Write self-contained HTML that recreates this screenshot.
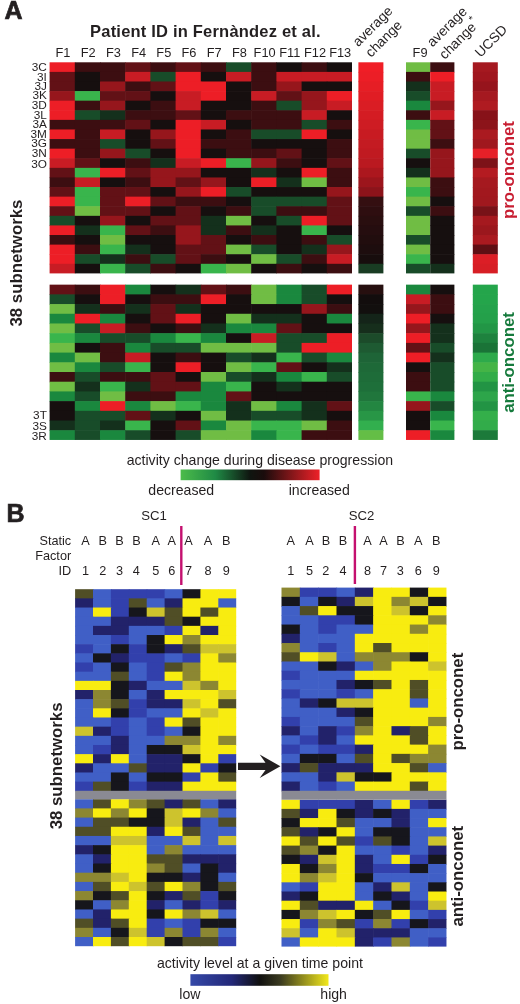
<!DOCTYPE html>
<html><head><meta charset="utf-8"><title>Figure</title>
<style>
html,body{margin:0;padding:0;background:#fff;}
body{width:520px;height:1004px;overflow:hidden;font-family:"Liberation Sans", sans-serif;}
svg{display:block;filter:blur(0.45px);}
svg text{font-family:"Liberation Sans", sans-serif;}
</style></head><body>
<svg width="520" height="1004" viewBox="0 0 520 1004" font-family='&quot;Liberation Sans&quot;, sans-serif'>
<rect x="49.60" y="62.30" width="25.80" height="10.20" fill="#ed1e26"/>
<rect x="74.80" y="62.30" width="25.80" height="10.20" fill="#3c0e11"/>
<rect x="100.00" y="62.30" width="25.80" height="10.20" fill="#3c0e11"/>
<rect x="125.20" y="62.30" width="25.80" height="10.20" fill="#621116"/>
<rect x="150.40" y="62.30" width="25.80" height="10.20" fill="#3c0e11"/>
<rect x="175.60" y="62.30" width="25.80" height="10.20" fill="#621116"/>
<rect x="200.80" y="62.30" width="25.80" height="10.20" fill="#3c0e11"/>
<rect x="226.00" y="62.30" width="25.80" height="10.20" fill="#184c29"/>
<rect x="251.20" y="62.30" width="25.80" height="10.20" fill="#3c0e11"/>
<rect x="276.40" y="62.30" width="25.80" height="10.20" fill="#160f0f"/>
<rect x="301.60" y="62.30" width="25.80" height="10.20" fill="#3c0e11"/>
<rect x="326.80" y="62.30" width="25.20" height="10.20" fill="#160f0f"/>
<rect x="49.60" y="71.90" width="25.80" height="10.20" fill="#621116"/>
<rect x="74.80" y="71.90" width="25.80" height="10.20" fill="#160f0f"/>
<rect x="100.00" y="71.90" width="25.80" height="10.20" fill="#3c0e11"/>
<rect x="125.20" y="71.90" width="25.80" height="10.20" fill="#c81c24"/>
<rect x="150.40" y="71.90" width="25.80" height="10.20" fill="#184c29"/>
<rect x="175.60" y="71.90" width="25.80" height="10.20" fill="#ed1e26"/>
<rect x="200.80" y="71.90" width="25.80" height="10.20" fill="#160f0f"/>
<rect x="226.00" y="71.90" width="25.80" height="10.20" fill="#c81c24"/>
<rect x="251.20" y="71.90" width="25.80" height="10.20" fill="#3c0e11"/>
<rect x="276.40" y="71.90" width="25.80" height="10.20" fill="#c81c24"/>
<rect x="301.60" y="71.90" width="25.80" height="10.20" fill="#c81c24"/>
<rect x="326.80" y="71.90" width="25.20" height="10.20" fill="#c81c24"/>
<rect x="49.60" y="81.49" width="25.80" height="10.20" fill="#621116"/>
<rect x="74.80" y="81.49" width="25.80" height="10.20" fill="#160f0f"/>
<rect x="100.00" y="81.49" width="25.80" height="10.20" fill="#96161c"/>
<rect x="125.20" y="81.49" width="25.80" height="10.20" fill="#3c0e11"/>
<rect x="150.40" y="81.49" width="25.80" height="10.20" fill="#621116"/>
<rect x="175.60" y="81.49" width="25.80" height="10.20" fill="#ed1e26"/>
<rect x="200.80" y="81.49" width="25.80" height="10.20" fill="#ed1e26"/>
<rect x="226.00" y="81.49" width="25.80" height="10.20" fill="#160f0f"/>
<rect x="251.20" y="81.49" width="25.80" height="10.20" fill="#3c0e11"/>
<rect x="276.40" y="81.49" width="25.80" height="10.20" fill="#96161c"/>
<rect x="301.60" y="81.49" width="25.80" height="10.20" fill="#160f0f"/>
<rect x="326.80" y="81.49" width="25.20" height="10.20" fill="#160f0f"/>
<rect x="49.60" y="91.09" width="25.80" height="10.20" fill="#96161c"/>
<rect x="74.80" y="91.09" width="25.80" height="10.20" fill="#39b54c"/>
<rect x="100.00" y="91.09" width="25.80" height="10.20" fill="#621116"/>
<rect x="125.20" y="91.09" width="25.80" height="10.20" fill="#621116"/>
<rect x="150.40" y="91.09" width="25.80" height="10.20" fill="#160f0f"/>
<rect x="175.60" y="91.09" width="25.80" height="10.20" fill="#c81c24"/>
<rect x="200.80" y="91.09" width="25.80" height="10.20" fill="#ed1e26"/>
<rect x="226.00" y="91.09" width="25.80" height="10.20" fill="#160f0f"/>
<rect x="251.20" y="91.09" width="25.80" height="10.20" fill="#c81c24"/>
<rect x="276.40" y="91.09" width="25.80" height="10.20" fill="#621116"/>
<rect x="301.60" y="91.09" width="25.80" height="10.20" fill="#96161c"/>
<rect x="326.80" y="91.09" width="25.20" height="10.20" fill="#ed1e26"/>
<rect x="49.60" y="100.68" width="25.80" height="10.20" fill="#ed1e26"/>
<rect x="74.80" y="100.68" width="25.80" height="10.20" fill="#3c0e11"/>
<rect x="100.00" y="100.68" width="25.80" height="10.20" fill="#96161c"/>
<rect x="125.20" y="100.68" width="25.80" height="10.20" fill="#160f0f"/>
<rect x="150.40" y="100.68" width="25.80" height="10.20" fill="#3c0e11"/>
<rect x="175.60" y="100.68" width="25.80" height="10.20" fill="#c81c24"/>
<rect x="200.80" y="100.68" width="25.80" height="10.20" fill="#160f0f"/>
<rect x="226.00" y="100.68" width="25.80" height="10.20" fill="#160f0f"/>
<rect x="251.20" y="100.68" width="25.80" height="10.20" fill="#3c0e11"/>
<rect x="276.40" y="100.68" width="25.80" height="10.20" fill="#184c29"/>
<rect x="301.60" y="100.68" width="25.80" height="10.20" fill="#96161c"/>
<rect x="326.80" y="100.68" width="25.20" height="10.20" fill="#c81c24"/>
<rect x="49.60" y="110.28" width="25.80" height="10.20" fill="#ed1e26"/>
<rect x="74.80" y="110.28" width="25.80" height="10.20" fill="#184c29"/>
<rect x="100.00" y="110.28" width="25.80" height="10.20" fill="#14301c"/>
<rect x="125.20" y="110.28" width="25.80" height="10.20" fill="#3c0e11"/>
<rect x="150.40" y="110.28" width="25.80" height="10.20" fill="#3c0e11"/>
<rect x="175.60" y="110.28" width="25.80" height="10.20" fill="#621116"/>
<rect x="200.80" y="110.28" width="25.80" height="10.20" fill="#160f0f"/>
<rect x="226.00" y="110.28" width="25.80" height="10.20" fill="#3c0e11"/>
<rect x="251.20" y="110.28" width="25.80" height="10.20" fill="#3c0e11"/>
<rect x="276.40" y="110.28" width="25.80" height="10.20" fill="#3c0e11"/>
<rect x="301.60" y="110.28" width="25.80" height="10.20" fill="#c81c24"/>
<rect x="326.80" y="110.28" width="25.20" height="10.20" fill="#160f0f"/>
<rect x="49.60" y="119.87" width="25.80" height="10.20" fill="#3c0e11"/>
<rect x="74.80" y="119.87" width="25.80" height="10.20" fill="#3c0e11"/>
<rect x="100.00" y="119.87" width="25.80" height="10.20" fill="#3c0e11"/>
<rect x="125.20" y="119.87" width="25.80" height="10.20" fill="#621116"/>
<rect x="150.40" y="119.87" width="25.80" height="10.20" fill="#160f0f"/>
<rect x="175.60" y="119.87" width="25.80" height="10.20" fill="#ed1e26"/>
<rect x="200.80" y="119.87" width="25.80" height="10.20" fill="#c81c24"/>
<rect x="226.00" y="119.87" width="25.80" height="10.20" fill="#160f0f"/>
<rect x="251.20" y="119.87" width="25.80" height="10.20" fill="#3c0e11"/>
<rect x="276.40" y="119.87" width="25.80" height="10.20" fill="#3c0e11"/>
<rect x="301.60" y="119.87" width="25.80" height="10.20" fill="#184c29"/>
<rect x="326.80" y="119.87" width="25.20" height="10.20" fill="#3c0e11"/>
<rect x="49.60" y="129.47" width="25.80" height="10.20" fill="#ed1e26"/>
<rect x="74.80" y="129.47" width="25.80" height="10.20" fill="#3c0e11"/>
<rect x="100.00" y="129.47" width="25.80" height="10.20" fill="#c81c24"/>
<rect x="125.20" y="129.47" width="25.80" height="10.20" fill="#160f0f"/>
<rect x="150.40" y="129.47" width="25.80" height="10.20" fill="#96161c"/>
<rect x="175.60" y="129.47" width="25.80" height="10.20" fill="#ed1e26"/>
<rect x="200.80" y="129.47" width="25.80" height="10.20" fill="#160f0f"/>
<rect x="226.00" y="129.47" width="25.80" height="10.20" fill="#3c0e11"/>
<rect x="251.20" y="129.47" width="25.80" height="10.20" fill="#184c29"/>
<rect x="276.40" y="129.47" width="25.80" height="10.20" fill="#184c29"/>
<rect x="301.60" y="129.47" width="25.80" height="10.20" fill="#ed1e26"/>
<rect x="326.80" y="129.47" width="25.20" height="10.20" fill="#160f0f"/>
<rect x="49.60" y="139.06" width="25.80" height="10.20" fill="#3c0e11"/>
<rect x="74.80" y="139.06" width="25.80" height="10.20" fill="#3c0e11"/>
<rect x="100.00" y="139.06" width="25.80" height="10.20" fill="#184c29"/>
<rect x="125.20" y="139.06" width="25.80" height="10.20" fill="#160f0f"/>
<rect x="150.40" y="139.06" width="25.80" height="10.20" fill="#621116"/>
<rect x="175.60" y="139.06" width="25.80" height="10.20" fill="#ed1e26"/>
<rect x="200.80" y="139.06" width="25.80" height="10.20" fill="#3c0e11"/>
<rect x="226.00" y="139.06" width="25.80" height="10.20" fill="#3c0e11"/>
<rect x="251.20" y="139.06" width="25.80" height="10.20" fill="#160f0f"/>
<rect x="276.40" y="139.06" width="25.80" height="10.20" fill="#160f0f"/>
<rect x="301.60" y="139.06" width="25.80" height="10.20" fill="#160f0f"/>
<rect x="326.80" y="139.06" width="25.20" height="10.20" fill="#3c0e11"/>
<rect x="49.60" y="148.66" width="25.80" height="10.20" fill="#ed1e26"/>
<rect x="74.80" y="148.66" width="25.80" height="10.20" fill="#3c0e11"/>
<rect x="100.00" y="148.66" width="25.80" height="10.20" fill="#96161c"/>
<rect x="125.20" y="148.66" width="25.80" height="10.20" fill="#184c29"/>
<rect x="150.40" y="148.66" width="25.80" height="10.20" fill="#160f0f"/>
<rect x="175.60" y="148.66" width="25.80" height="10.20" fill="#ed1e26"/>
<rect x="200.80" y="148.66" width="25.80" height="10.20" fill="#160f0f"/>
<rect x="226.00" y="148.66" width="25.80" height="10.20" fill="#3c0e11"/>
<rect x="251.20" y="148.66" width="25.80" height="10.20" fill="#3c0e11"/>
<rect x="276.40" y="148.66" width="25.80" height="10.20" fill="#621116"/>
<rect x="301.60" y="148.66" width="25.80" height="10.20" fill="#160f0f"/>
<rect x="326.80" y="148.66" width="25.20" height="10.20" fill="#3c0e11"/>
<rect x="49.60" y="158.25" width="25.80" height="10.20" fill="#c81c24"/>
<rect x="74.80" y="158.25" width="25.80" height="10.20" fill="#621116"/>
<rect x="100.00" y="158.25" width="25.80" height="10.20" fill="#160f0f"/>
<rect x="125.20" y="158.25" width="25.80" height="10.20" fill="#3c0e11"/>
<rect x="150.40" y="158.25" width="25.80" height="10.20" fill="#14301c"/>
<rect x="175.60" y="158.25" width="25.80" height="10.20" fill="#c81c24"/>
<rect x="200.80" y="158.25" width="25.80" height="10.20" fill="#ed1e26"/>
<rect x="226.00" y="158.25" width="25.80" height="10.20" fill="#39b54c"/>
<rect x="251.20" y="158.25" width="25.80" height="10.20" fill="#96161c"/>
<rect x="276.40" y="158.25" width="25.80" height="10.20" fill="#3c0e11"/>
<rect x="301.60" y="158.25" width="25.80" height="10.20" fill="#160f0f"/>
<rect x="326.80" y="158.25" width="25.20" height="10.20" fill="#621116"/>
<rect x="49.60" y="167.85" width="25.80" height="10.20" fill="#621116"/>
<rect x="74.80" y="167.85" width="25.80" height="10.20" fill="#39b54c"/>
<rect x="100.00" y="167.85" width="25.80" height="10.20" fill="#ed1e26"/>
<rect x="125.20" y="167.85" width="25.80" height="10.20" fill="#621116"/>
<rect x="150.40" y="167.85" width="25.80" height="10.20" fill="#96161c"/>
<rect x="175.60" y="167.85" width="25.80" height="10.20" fill="#96161c"/>
<rect x="200.80" y="167.85" width="25.80" height="10.20" fill="#160f0f"/>
<rect x="226.00" y="167.85" width="25.80" height="10.20" fill="#160f0f"/>
<rect x="251.20" y="167.85" width="25.80" height="10.20" fill="#14301c"/>
<rect x="276.40" y="167.85" width="25.80" height="10.20" fill="#160f0f"/>
<rect x="301.60" y="167.85" width="25.80" height="10.20" fill="#ed1e26"/>
<rect x="326.80" y="167.85" width="25.20" height="10.20" fill="#3c0e11"/>
<rect x="49.60" y="177.45" width="25.80" height="10.20" fill="#3c0e11"/>
<rect x="74.80" y="177.45" width="25.80" height="10.20" fill="#c81c24"/>
<rect x="100.00" y="177.45" width="25.80" height="10.20" fill="#160f0f"/>
<rect x="125.20" y="177.45" width="25.80" height="10.20" fill="#3c0e11"/>
<rect x="150.40" y="177.45" width="25.80" height="10.20" fill="#96161c"/>
<rect x="175.60" y="177.45" width="25.80" height="10.20" fill="#621116"/>
<rect x="200.80" y="177.45" width="25.80" height="10.20" fill="#96161c"/>
<rect x="226.00" y="177.45" width="25.80" height="10.20" fill="#160f0f"/>
<rect x="251.20" y="177.45" width="25.80" height="10.20" fill="#ed1e26"/>
<rect x="276.40" y="177.45" width="25.80" height="10.20" fill="#14301c"/>
<rect x="301.60" y="177.45" width="25.80" height="10.20" fill="#70bd44"/>
<rect x="326.80" y="177.45" width="25.20" height="10.20" fill="#3c0e11"/>
<rect x="49.60" y="187.04" width="25.80" height="10.20" fill="#621116"/>
<rect x="74.80" y="187.04" width="25.80" height="10.20" fill="#39b54c"/>
<rect x="100.00" y="187.04" width="25.80" height="10.20" fill="#621116"/>
<rect x="125.20" y="187.04" width="25.80" height="10.20" fill="#621116"/>
<rect x="150.40" y="187.04" width="25.80" height="10.20" fill="#160f0f"/>
<rect x="175.60" y="187.04" width="25.80" height="10.20" fill="#96161c"/>
<rect x="200.80" y="187.04" width="25.80" height="10.20" fill="#ed1e26"/>
<rect x="226.00" y="187.04" width="25.80" height="10.20" fill="#184c29"/>
<rect x="251.20" y="187.04" width="25.80" height="10.20" fill="#160f0f"/>
<rect x="276.40" y="187.04" width="25.80" height="10.20" fill="#160f0f"/>
<rect x="301.60" y="187.04" width="25.80" height="10.20" fill="#160f0f"/>
<rect x="326.80" y="187.04" width="25.20" height="10.20" fill="#96161c"/>
<rect x="49.60" y="196.64" width="25.80" height="10.20" fill="#ed1e26"/>
<rect x="74.80" y="196.64" width="25.80" height="10.20" fill="#39b54c"/>
<rect x="100.00" y="196.64" width="25.80" height="10.20" fill="#621116"/>
<rect x="125.20" y="196.64" width="25.80" height="10.20" fill="#ed1e26"/>
<rect x="150.40" y="196.64" width="25.80" height="10.20" fill="#621116"/>
<rect x="175.60" y="196.64" width="25.80" height="10.20" fill="#3c0e11"/>
<rect x="200.80" y="196.64" width="25.80" height="10.20" fill="#3c0e11"/>
<rect x="226.00" y="196.64" width="25.80" height="10.20" fill="#160f0f"/>
<rect x="251.20" y="196.64" width="25.80" height="10.20" fill="#184c29"/>
<rect x="276.40" y="196.64" width="25.80" height="10.20" fill="#184c29"/>
<rect x="301.60" y="196.64" width="25.80" height="10.20" fill="#184c29"/>
<rect x="326.80" y="196.64" width="25.20" height="10.20" fill="#621116"/>
<rect x="49.60" y="206.23" width="25.80" height="10.20" fill="#621116"/>
<rect x="74.80" y="206.23" width="25.80" height="10.20" fill="#70bd44"/>
<rect x="100.00" y="206.23" width="25.80" height="10.20" fill="#621116"/>
<rect x="125.20" y="206.23" width="25.80" height="10.20" fill="#621116"/>
<rect x="150.40" y="206.23" width="25.80" height="10.20" fill="#160f0f"/>
<rect x="175.60" y="206.23" width="25.80" height="10.20" fill="#621116"/>
<rect x="200.80" y="206.23" width="25.80" height="10.20" fill="#160f0f"/>
<rect x="226.00" y="206.23" width="25.80" height="10.20" fill="#3c0e11"/>
<rect x="251.20" y="206.23" width="25.80" height="10.20" fill="#184c29"/>
<rect x="276.40" y="206.23" width="25.80" height="10.20" fill="#3c0e11"/>
<rect x="301.60" y="206.23" width="25.80" height="10.20" fill="#3c0e11"/>
<rect x="326.80" y="206.23" width="25.20" height="10.20" fill="#621116"/>
<rect x="49.60" y="215.83" width="25.80" height="10.20" fill="#184c29"/>
<rect x="74.80" y="215.83" width="25.80" height="10.20" fill="#160f0f"/>
<rect x="100.00" y="215.83" width="25.80" height="10.20" fill="#96161c"/>
<rect x="125.20" y="215.83" width="25.80" height="10.20" fill="#160f0f"/>
<rect x="150.40" y="215.83" width="25.80" height="10.20" fill="#621116"/>
<rect x="175.60" y="215.83" width="25.80" height="10.20" fill="#621116"/>
<rect x="200.80" y="215.83" width="25.80" height="10.20" fill="#14301c"/>
<rect x="226.00" y="215.83" width="25.80" height="10.20" fill="#70bd44"/>
<rect x="251.20" y="215.83" width="25.80" height="10.20" fill="#160f0f"/>
<rect x="276.40" y="215.83" width="25.80" height="10.20" fill="#184c29"/>
<rect x="301.60" y="215.83" width="25.80" height="10.20" fill="#ed1e26"/>
<rect x="326.80" y="215.83" width="25.20" height="10.20" fill="#621116"/>
<rect x="49.60" y="225.42" width="25.80" height="10.20" fill="#ed1e26"/>
<rect x="74.80" y="225.42" width="25.80" height="10.20" fill="#14301c"/>
<rect x="100.00" y="225.42" width="25.80" height="10.20" fill="#39b54c"/>
<rect x="125.20" y="225.42" width="25.80" height="10.20" fill="#621116"/>
<rect x="150.40" y="225.42" width="25.80" height="10.20" fill="#3c0e11"/>
<rect x="175.60" y="225.42" width="25.80" height="10.20" fill="#96161c"/>
<rect x="200.80" y="225.42" width="25.80" height="10.20" fill="#14301c"/>
<rect x="226.00" y="225.42" width="25.80" height="10.20" fill="#3c0e11"/>
<rect x="251.20" y="225.42" width="25.80" height="10.20" fill="#14301c"/>
<rect x="276.40" y="225.42" width="25.80" height="10.20" fill="#160f0f"/>
<rect x="301.60" y="225.42" width="25.80" height="10.20" fill="#39b54c"/>
<rect x="326.80" y="225.42" width="25.20" height="10.20" fill="#160f0f"/>
<rect x="49.60" y="235.02" width="25.80" height="10.20" fill="#3c0e11"/>
<rect x="74.80" y="235.02" width="25.80" height="10.20" fill="#160f0f"/>
<rect x="100.00" y="235.02" width="25.80" height="10.20" fill="#70bd44"/>
<rect x="125.20" y="235.02" width="25.80" height="10.20" fill="#160f0f"/>
<rect x="150.40" y="235.02" width="25.80" height="10.20" fill="#160f0f"/>
<rect x="175.60" y="235.02" width="25.80" height="10.20" fill="#96161c"/>
<rect x="200.80" y="235.02" width="25.80" height="10.20" fill="#621116"/>
<rect x="226.00" y="235.02" width="25.80" height="10.20" fill="#160f0f"/>
<rect x="251.20" y="235.02" width="25.80" height="10.20" fill="#3c0e11"/>
<rect x="276.40" y="235.02" width="25.80" height="10.20" fill="#160f0f"/>
<rect x="301.60" y="235.02" width="25.80" height="10.20" fill="#3c0e11"/>
<rect x="326.80" y="235.02" width="25.20" height="10.20" fill="#184c29"/>
<rect x="49.60" y="244.61" width="25.80" height="10.20" fill="#ed1e26"/>
<rect x="74.80" y="244.61" width="25.80" height="10.20" fill="#3c0e11"/>
<rect x="100.00" y="244.61" width="25.80" height="10.20" fill="#39b54c"/>
<rect x="125.20" y="244.61" width="25.80" height="10.20" fill="#14301c"/>
<rect x="150.40" y="244.61" width="25.80" height="10.20" fill="#160f0f"/>
<rect x="175.60" y="244.61" width="25.80" height="10.20" fill="#621116"/>
<rect x="200.80" y="244.61" width="25.80" height="10.20" fill="#621116"/>
<rect x="226.00" y="244.61" width="25.80" height="10.20" fill="#70bd44"/>
<rect x="251.20" y="244.61" width="25.80" height="10.20" fill="#184c29"/>
<rect x="276.40" y="244.61" width="25.80" height="10.20" fill="#160f0f"/>
<rect x="301.60" y="244.61" width="25.80" height="10.20" fill="#14301c"/>
<rect x="326.80" y="244.61" width="25.20" height="10.20" fill="#96161c"/>
<rect x="49.60" y="254.21" width="25.80" height="10.20" fill="#ed1e26"/>
<rect x="74.80" y="254.21" width="25.80" height="10.20" fill="#184c29"/>
<rect x="100.00" y="254.21" width="25.80" height="10.20" fill="#14301c"/>
<rect x="125.20" y="254.21" width="25.80" height="10.20" fill="#3c0e11"/>
<rect x="150.40" y="254.21" width="25.80" height="10.20" fill="#184c29"/>
<rect x="175.60" y="254.21" width="25.80" height="10.20" fill="#621116"/>
<rect x="200.80" y="254.21" width="25.80" height="10.20" fill="#3c0e11"/>
<rect x="226.00" y="254.21" width="25.80" height="10.20" fill="#160f0f"/>
<rect x="251.20" y="254.21" width="25.80" height="10.20" fill="#70bd44"/>
<rect x="276.40" y="254.21" width="25.80" height="10.20" fill="#184c29"/>
<rect x="301.60" y="254.21" width="25.80" height="10.20" fill="#3c0e11"/>
<rect x="326.80" y="254.21" width="25.20" height="10.20" fill="#c81c24"/>
<rect x="49.60" y="263.80" width="25.80" height="9.60" fill="#c81c24"/>
<rect x="74.80" y="263.80" width="25.80" height="9.60" fill="#160f0f"/>
<rect x="100.00" y="263.80" width="25.80" height="9.60" fill="#39b54c"/>
<rect x="125.20" y="263.80" width="25.80" height="9.60" fill="#184c29"/>
<rect x="150.40" y="263.80" width="25.80" height="9.60" fill="#3c0e11"/>
<rect x="175.60" y="263.80" width="25.80" height="9.60" fill="#160f0f"/>
<rect x="200.80" y="263.80" width="25.80" height="9.60" fill="#39b54c"/>
<rect x="226.00" y="263.80" width="25.80" height="9.60" fill="#70bd44"/>
<rect x="251.20" y="263.80" width="25.80" height="9.60" fill="#160f0f"/>
<rect x="276.40" y="263.80" width="25.80" height="9.60" fill="#3c0e11"/>
<rect x="301.60" y="263.80" width="25.80" height="9.60" fill="#160f0f"/>
<rect x="326.80" y="263.80" width="25.20" height="9.60" fill="#3c0e11"/>
<rect x="49.60" y="284.65" width="25.80" height="10.31" fill="#621116"/>
<rect x="74.80" y="284.65" width="25.80" height="10.31" fill="#3c0e11"/>
<rect x="100.00" y="284.65" width="25.80" height="10.31" fill="#ed1e26"/>
<rect x="125.20" y="284.65" width="25.80" height="10.31" fill="#1a883e"/>
<rect x="150.40" y="284.65" width="25.80" height="10.31" fill="#160f0f"/>
<rect x="175.60" y="284.65" width="25.80" height="10.31" fill="#14301c"/>
<rect x="200.80" y="284.65" width="25.80" height="10.31" fill="#621116"/>
<rect x="226.00" y="284.65" width="25.80" height="10.31" fill="#3c0e11"/>
<rect x="251.20" y="284.65" width="25.80" height="10.31" fill="#70bd44"/>
<rect x="276.40" y="284.65" width="25.80" height="10.31" fill="#1a883e"/>
<rect x="301.60" y="284.65" width="25.80" height="10.31" fill="#184c29"/>
<rect x="326.80" y="284.65" width="25.20" height="10.31" fill="#ed1e26"/>
<rect x="49.60" y="294.36" width="25.80" height="10.31" fill="#184c29"/>
<rect x="74.80" y="294.36" width="25.80" height="10.31" fill="#160f0f"/>
<rect x="100.00" y="294.36" width="25.80" height="10.31" fill="#ed1e26"/>
<rect x="125.20" y="294.36" width="25.80" height="10.31" fill="#160f0f"/>
<rect x="150.40" y="294.36" width="25.80" height="10.31" fill="#3c0e11"/>
<rect x="175.60" y="294.36" width="25.80" height="10.31" fill="#3c0e11"/>
<rect x="200.80" y="294.36" width="25.80" height="10.31" fill="#ed1e26"/>
<rect x="226.00" y="294.36" width="25.80" height="10.31" fill="#160f0f"/>
<rect x="251.20" y="294.36" width="25.80" height="10.31" fill="#70bd44"/>
<rect x="276.40" y="294.36" width="25.80" height="10.31" fill="#1a883e"/>
<rect x="301.60" y="294.36" width="25.80" height="10.31" fill="#184c29"/>
<rect x="326.80" y="294.36" width="25.20" height="10.31" fill="#160f0f"/>
<rect x="49.60" y="304.06" width="25.80" height="10.31" fill="#70bd44"/>
<rect x="74.80" y="304.06" width="25.80" height="10.31" fill="#14301c"/>
<rect x="100.00" y="304.06" width="25.80" height="10.31" fill="#3c0e11"/>
<rect x="125.20" y="304.06" width="25.80" height="10.31" fill="#14301c"/>
<rect x="150.40" y="304.06" width="25.80" height="10.31" fill="#621116"/>
<rect x="175.60" y="304.06" width="25.80" height="10.31" fill="#14301c"/>
<rect x="200.80" y="304.06" width="25.80" height="10.31" fill="#160f0f"/>
<rect x="226.00" y="304.06" width="25.80" height="10.31" fill="#160f0f"/>
<rect x="251.20" y="304.06" width="25.80" height="10.31" fill="#160f0f"/>
<rect x="276.40" y="304.06" width="25.80" height="10.31" fill="#160f0f"/>
<rect x="301.60" y="304.06" width="25.80" height="10.31" fill="#96161c"/>
<rect x="326.80" y="304.06" width="25.20" height="10.31" fill="#3c0e11"/>
<rect x="49.60" y="313.77" width="25.80" height="10.31" fill="#1a883e"/>
<rect x="74.80" y="313.77" width="25.80" height="10.31" fill="#ed1e26"/>
<rect x="100.00" y="313.77" width="25.80" height="10.31" fill="#1a883e"/>
<rect x="125.20" y="313.77" width="25.80" height="10.31" fill="#160f0f"/>
<rect x="150.40" y="313.77" width="25.80" height="10.31" fill="#621116"/>
<rect x="175.60" y="313.77" width="25.80" height="10.31" fill="#ed1e26"/>
<rect x="200.80" y="313.77" width="25.80" height="10.31" fill="#160f0f"/>
<rect x="226.00" y="313.77" width="25.80" height="10.31" fill="#70bd44"/>
<rect x="251.20" y="313.77" width="25.80" height="10.31" fill="#14301c"/>
<rect x="276.40" y="313.77" width="25.80" height="10.31" fill="#14301c"/>
<rect x="301.60" y="313.77" width="25.80" height="10.31" fill="#160f0f"/>
<rect x="326.80" y="313.77" width="25.20" height="10.31" fill="#1a883e"/>
<rect x="49.60" y="323.47" width="25.80" height="10.31" fill="#70bd44"/>
<rect x="74.80" y="323.47" width="25.80" height="10.31" fill="#184c29"/>
<rect x="100.00" y="323.47" width="25.80" height="10.31" fill="#c81c24"/>
<rect x="125.20" y="323.47" width="25.80" height="10.31" fill="#3c0e11"/>
<rect x="150.40" y="323.47" width="25.80" height="10.31" fill="#160f0f"/>
<rect x="175.60" y="323.47" width="25.80" height="10.31" fill="#3c0e11"/>
<rect x="200.80" y="323.47" width="25.80" height="10.31" fill="#14301c"/>
<rect x="226.00" y="323.47" width="25.80" height="10.31" fill="#1a883e"/>
<rect x="251.20" y="323.47" width="25.80" height="10.31" fill="#1a883e"/>
<rect x="276.40" y="323.47" width="25.80" height="10.31" fill="#621116"/>
<rect x="301.60" y="323.47" width="25.80" height="10.31" fill="#160f0f"/>
<rect x="326.80" y="323.47" width="25.20" height="10.31" fill="#160f0f"/>
<rect x="49.60" y="333.18" width="25.80" height="10.31" fill="#39b54c"/>
<rect x="74.80" y="333.18" width="25.80" height="10.31" fill="#1a883e"/>
<rect x="100.00" y="333.18" width="25.80" height="10.31" fill="#184c29"/>
<rect x="125.20" y="333.18" width="25.80" height="10.31" fill="#184c29"/>
<rect x="150.40" y="333.18" width="25.80" height="10.31" fill="#1a883e"/>
<rect x="175.60" y="333.18" width="25.80" height="10.31" fill="#39b54c"/>
<rect x="200.80" y="333.18" width="25.80" height="10.31" fill="#1a883e"/>
<rect x="226.00" y="333.18" width="25.80" height="10.31" fill="#160f0f"/>
<rect x="251.20" y="333.18" width="25.80" height="10.31" fill="#c81c24"/>
<rect x="276.40" y="333.18" width="25.80" height="10.31" fill="#184c29"/>
<rect x="301.60" y="333.18" width="25.80" height="10.31" fill="#184c29"/>
<rect x="326.80" y="333.18" width="25.20" height="10.31" fill="#ed1e26"/>
<rect x="49.60" y="342.89" width="25.80" height="10.31" fill="#70bd44"/>
<rect x="74.80" y="342.89" width="25.80" height="10.31" fill="#160f0f"/>
<rect x="100.00" y="342.89" width="25.80" height="10.31" fill="#3c0e11"/>
<rect x="125.20" y="342.89" width="25.80" height="10.31" fill="#1a883e"/>
<rect x="150.40" y="342.89" width="25.80" height="10.31" fill="#184c29"/>
<rect x="175.60" y="342.89" width="25.80" height="10.31" fill="#184c29"/>
<rect x="200.80" y="342.89" width="25.80" height="10.31" fill="#70bd44"/>
<rect x="226.00" y="342.89" width="25.80" height="10.31" fill="#70bd44"/>
<rect x="251.20" y="342.89" width="25.80" height="10.31" fill="#70bd44"/>
<rect x="276.40" y="342.89" width="25.80" height="10.31" fill="#184c29"/>
<rect x="301.60" y="342.89" width="25.80" height="10.31" fill="#ed1e26"/>
<rect x="326.80" y="342.89" width="25.20" height="10.31" fill="#ed1e26"/>
<rect x="49.60" y="352.59" width="25.80" height="10.31" fill="#1a883e"/>
<rect x="74.80" y="352.59" width="25.80" height="10.31" fill="#70bd44"/>
<rect x="100.00" y="352.59" width="25.80" height="10.31" fill="#3c0e11"/>
<rect x="125.20" y="352.59" width="25.80" height="10.31" fill="#c81c24"/>
<rect x="150.40" y="352.59" width="25.80" height="10.31" fill="#160f0f"/>
<rect x="175.60" y="352.59" width="25.80" height="10.31" fill="#3c0e11"/>
<rect x="200.80" y="352.59" width="25.80" height="10.31" fill="#160f0f"/>
<rect x="226.00" y="352.59" width="25.80" height="10.31" fill="#184c29"/>
<rect x="251.20" y="352.59" width="25.80" height="10.31" fill="#14301c"/>
<rect x="276.40" y="352.59" width="25.80" height="10.31" fill="#39b54c"/>
<rect x="301.60" y="352.59" width="25.80" height="10.31" fill="#184c29"/>
<rect x="326.80" y="352.59" width="25.20" height="10.31" fill="#1a883e"/>
<rect x="49.60" y="362.30" width="25.80" height="10.31" fill="#70bd44"/>
<rect x="74.80" y="362.30" width="25.80" height="10.31" fill="#1a883e"/>
<rect x="100.00" y="362.30" width="25.80" height="10.31" fill="#184c29"/>
<rect x="125.20" y="362.30" width="25.80" height="10.31" fill="#39b54c"/>
<rect x="150.40" y="362.30" width="25.80" height="10.31" fill="#160f0f"/>
<rect x="175.60" y="362.30" width="25.80" height="10.31" fill="#ed1e26"/>
<rect x="200.80" y="362.30" width="25.80" height="10.31" fill="#160f0f"/>
<rect x="226.00" y="362.30" width="25.80" height="10.31" fill="#70bd44"/>
<rect x="251.20" y="362.30" width="25.80" height="10.31" fill="#39b54c"/>
<rect x="276.40" y="362.30" width="25.80" height="10.31" fill="#621116"/>
<rect x="301.60" y="362.30" width="25.80" height="10.31" fill="#160f0f"/>
<rect x="326.80" y="362.30" width="25.20" height="10.31" fill="#14301c"/>
<rect x="49.60" y="372.01" width="25.80" height="10.31" fill="#3c0e11"/>
<rect x="74.80" y="372.01" width="25.80" height="10.31" fill="#184c29"/>
<rect x="100.00" y="372.01" width="25.80" height="10.31" fill="#3c0e11"/>
<rect x="125.20" y="372.01" width="25.80" height="10.31" fill="#3c0e11"/>
<rect x="150.40" y="372.01" width="25.80" height="10.31" fill="#621116"/>
<rect x="175.60" y="372.01" width="25.80" height="10.31" fill="#160f0f"/>
<rect x="200.80" y="372.01" width="25.80" height="10.31" fill="#70bd44"/>
<rect x="226.00" y="372.01" width="25.80" height="10.31" fill="#184c29"/>
<rect x="251.20" y="372.01" width="25.80" height="10.31" fill="#14301c"/>
<rect x="276.40" y="372.01" width="25.80" height="10.31" fill="#1a883e"/>
<rect x="301.60" y="372.01" width="25.80" height="10.31" fill="#39b54c"/>
<rect x="326.80" y="372.01" width="25.20" height="10.31" fill="#184c29"/>
<rect x="49.60" y="381.71" width="25.80" height="10.31" fill="#70bd44"/>
<rect x="74.80" y="381.71" width="25.80" height="10.31" fill="#14301c"/>
<rect x="100.00" y="381.71" width="25.80" height="10.31" fill="#39b54c"/>
<rect x="125.20" y="381.71" width="25.80" height="10.31" fill="#14301c"/>
<rect x="150.40" y="381.71" width="25.80" height="10.31" fill="#621116"/>
<rect x="175.60" y="381.71" width="25.80" height="10.31" fill="#621116"/>
<rect x="200.80" y="381.71" width="25.80" height="10.31" fill="#1a883e"/>
<rect x="226.00" y="381.71" width="25.80" height="10.31" fill="#39b54c"/>
<rect x="251.20" y="381.71" width="25.80" height="10.31" fill="#160f0f"/>
<rect x="276.40" y="381.71" width="25.80" height="10.31" fill="#14301c"/>
<rect x="301.60" y="381.71" width="25.80" height="10.31" fill="#160f0f"/>
<rect x="326.80" y="381.71" width="25.20" height="10.31" fill="#160f0f"/>
<rect x="49.60" y="391.42" width="25.80" height="10.31" fill="#1a883e"/>
<rect x="74.80" y="391.42" width="25.80" height="10.31" fill="#184c29"/>
<rect x="100.00" y="391.42" width="25.80" height="10.31" fill="#70bd44"/>
<rect x="125.20" y="391.42" width="25.80" height="10.31" fill="#3c0e11"/>
<rect x="150.40" y="391.42" width="25.80" height="10.31" fill="#3c0e11"/>
<rect x="175.60" y="391.42" width="25.80" height="10.31" fill="#1a883e"/>
<rect x="200.80" y="391.42" width="25.80" height="10.31" fill="#1a883e"/>
<rect x="226.00" y="391.42" width="25.80" height="10.31" fill="#621116"/>
<rect x="251.20" y="391.42" width="25.80" height="10.31" fill="#160f0f"/>
<rect x="276.40" y="391.42" width="25.80" height="10.31" fill="#160f0f"/>
<rect x="301.60" y="391.42" width="25.80" height="10.31" fill="#160f0f"/>
<rect x="326.80" y="391.42" width="25.20" height="10.31" fill="#160f0f"/>
<rect x="49.60" y="401.12" width="25.80" height="10.31" fill="#160f0f"/>
<rect x="74.80" y="401.12" width="25.80" height="10.31" fill="#1a883e"/>
<rect x="100.00" y="401.12" width="25.80" height="10.31" fill="#ed1e26"/>
<rect x="125.20" y="401.12" width="25.80" height="10.31" fill="#1a883e"/>
<rect x="150.40" y="401.12" width="25.80" height="10.31" fill="#70bd44"/>
<rect x="175.60" y="401.12" width="25.80" height="10.31" fill="#39b54c"/>
<rect x="200.80" y="401.12" width="25.80" height="10.31" fill="#1a883e"/>
<rect x="226.00" y="401.12" width="25.80" height="10.31" fill="#14301c"/>
<rect x="251.20" y="401.12" width="25.80" height="10.31" fill="#70bd44"/>
<rect x="276.40" y="401.12" width="25.80" height="10.31" fill="#1a883e"/>
<rect x="301.60" y="401.12" width="25.80" height="10.31" fill="#14301c"/>
<rect x="326.80" y="401.12" width="25.20" height="10.31" fill="#621116"/>
<rect x="49.60" y="410.83" width="25.80" height="10.31" fill="#160f0f"/>
<rect x="74.80" y="410.83" width="25.80" height="10.31" fill="#184c29"/>
<rect x="100.00" y="410.83" width="25.80" height="10.31" fill="#184c29"/>
<rect x="125.20" y="410.83" width="25.80" height="10.31" fill="#621116"/>
<rect x="150.40" y="410.83" width="25.80" height="10.31" fill="#14301c"/>
<rect x="175.60" y="410.83" width="25.80" height="10.31" fill="#160f0f"/>
<rect x="200.80" y="410.83" width="25.80" height="10.31" fill="#70bd44"/>
<rect x="226.00" y="410.83" width="25.80" height="10.31" fill="#14301c"/>
<rect x="251.20" y="410.83" width="25.80" height="10.31" fill="#184c29"/>
<rect x="276.40" y="410.83" width="25.80" height="10.31" fill="#184c29"/>
<rect x="301.60" y="410.83" width="25.80" height="10.31" fill="#14301c"/>
<rect x="326.80" y="410.83" width="25.20" height="10.31" fill="#160f0f"/>
<rect x="49.60" y="420.54" width="25.80" height="10.31" fill="#14301c"/>
<rect x="74.80" y="420.54" width="25.80" height="10.31" fill="#184c29"/>
<rect x="100.00" y="420.54" width="25.80" height="10.31" fill="#14301c"/>
<rect x="125.20" y="420.54" width="25.80" height="10.31" fill="#39b54c"/>
<rect x="150.40" y="420.54" width="25.80" height="10.31" fill="#160f0f"/>
<rect x="175.60" y="420.54" width="25.80" height="10.31" fill="#621116"/>
<rect x="200.80" y="420.54" width="25.80" height="10.31" fill="#1a883e"/>
<rect x="226.00" y="420.54" width="25.80" height="10.31" fill="#70bd44"/>
<rect x="251.20" y="420.54" width="25.80" height="10.31" fill="#39b54c"/>
<rect x="276.40" y="420.54" width="25.80" height="10.31" fill="#39b54c"/>
<rect x="301.60" y="420.54" width="25.80" height="10.31" fill="#70bd44"/>
<rect x="326.80" y="420.54" width="25.20" height="10.31" fill="#3c0e11"/>
<rect x="49.60" y="430.24" width="25.80" height="9.71" fill="#1a883e"/>
<rect x="74.80" y="430.24" width="25.80" height="9.71" fill="#184c29"/>
<rect x="100.00" y="430.24" width="25.80" height="9.71" fill="#1a883e"/>
<rect x="125.20" y="430.24" width="25.80" height="9.71" fill="#184c29"/>
<rect x="150.40" y="430.24" width="25.80" height="9.71" fill="#160f0f"/>
<rect x="175.60" y="430.24" width="25.80" height="9.71" fill="#184c29"/>
<rect x="200.80" y="430.24" width="25.80" height="9.71" fill="#70bd44"/>
<rect x="226.00" y="430.24" width="25.80" height="9.71" fill="#70bd44"/>
<rect x="251.20" y="430.24" width="25.80" height="9.71" fill="#1a883e"/>
<rect x="276.40" y="430.24" width="25.80" height="9.71" fill="#39b54c"/>
<rect x="301.60" y="430.24" width="25.80" height="9.71" fill="#3c0e11"/>
<rect x="326.80" y="430.24" width="25.20" height="9.71" fill="#3c0e11"/>
<rect x="358.40" y="62.30" width="25.00" height="10.20" fill="#f01e26"/>
<rect x="358.40" y="71.90" width="25.00" height="10.20" fill="#ec1e26"/>
<rect x="358.40" y="81.49" width="25.00" height="10.20" fill="#e61e25"/>
<rect x="358.40" y="91.09" width="25.00" height="10.20" fill="#e01d24"/>
<rect x="358.40" y="100.68" width="25.00" height="10.20" fill="#da1d24"/>
<rect x="358.40" y="110.28" width="25.00" height="10.20" fill="#d41c23"/>
<rect x="358.40" y="119.87" width="25.00" height="10.20" fill="#ce1c23"/>
<rect x="358.40" y="129.47" width="25.00" height="10.20" fill="#c81b22"/>
<rect x="358.40" y="139.06" width="25.00" height="10.20" fill="#c41b22"/>
<rect x="358.40" y="148.66" width="25.00" height="10.20" fill="#c01a21"/>
<rect x="358.40" y="158.25" width="25.00" height="10.20" fill="#ba1920"/>
<rect x="358.40" y="167.85" width="25.00" height="10.20" fill="#ac171e"/>
<rect x="358.40" y="177.45" width="25.00" height="10.20" fill="#9c151c"/>
<rect x="358.40" y="187.04" width="25.00" height="10.20" fill="#8c131a"/>
<rect x="358.40" y="196.64" width="25.00" height="10.20" fill="#340f11"/>
<rect x="358.40" y="206.23" width="25.00" height="10.20" fill="#2e0e10"/>
<rect x="358.40" y="215.83" width="25.00" height="10.20" fill="#290e0f"/>
<rect x="358.40" y="225.42" width="25.00" height="10.20" fill="#250d0f"/>
<rect x="358.40" y="235.02" width="25.00" height="10.20" fill="#210d0e"/>
<rect x="358.40" y="244.61" width="25.00" height="10.20" fill="#1d0d0e"/>
<rect x="358.40" y="254.21" width="25.00" height="10.20" fill="#170d0d"/>
<rect x="358.40" y="263.80" width="25.00" height="9.60" fill="#193c23"/>
<rect x="358.40" y="284.65" width="25.00" height="10.31" fill="#260f0f"/>
<rect x="358.40" y="294.36" width="25.00" height="10.31" fill="#120d0d"/>
<rect x="358.40" y="304.06" width="25.00" height="10.31" fill="#120f0e"/>
<rect x="358.40" y="313.77" width="25.00" height="10.31" fill="#142419"/>
<rect x="358.40" y="323.47" width="25.00" height="10.31" fill="#162e1c"/>
<rect x="358.40" y="333.18" width="25.00" height="10.31" fill="#1c4b2a"/>
<rect x="358.40" y="342.89" width="25.00" height="10.31" fill="#1e5a32"/>
<rect x="358.40" y="352.59" width="25.00" height="10.31" fill="#1e6437"/>
<rect x="358.40" y="362.30" width="25.00" height="10.31" fill="#1e6938"/>
<rect x="358.40" y="372.01" width="25.00" height="10.31" fill="#1e6c39"/>
<rect x="358.40" y="381.71" width="25.00" height="10.31" fill="#1e6f3a"/>
<rect x="358.40" y="391.42" width="25.00" height="10.31" fill="#20763c"/>
<rect x="358.40" y="401.12" width="25.00" height="10.31" fill="#238641"/>
<rect x="358.40" y="410.83" width="25.00" height="10.31" fill="#289646"/>
<rect x="358.40" y="420.54" width="25.00" height="10.31" fill="#32af4e"/>
<rect x="358.40" y="430.24" width="25.00" height="9.71" fill="#64be46"/>
<rect x="406.00" y="62.30" width="24.20" height="10.20" fill="#70bd44"/>
<rect x="406.00" y="71.90" width="24.20" height="10.20" fill="#3c0e11"/>
<rect x="406.00" y="81.49" width="24.20" height="10.20" fill="#14301c"/>
<rect x="406.00" y="91.09" width="24.20" height="10.20" fill="#184c29"/>
<rect x="406.00" y="100.68" width="24.20" height="10.20" fill="#1a883e"/>
<rect x="406.00" y="110.28" width="24.20" height="10.20" fill="#3c0e11"/>
<rect x="406.00" y="119.87" width="24.20" height="10.20" fill="#39b54c"/>
<rect x="406.00" y="129.47" width="24.20" height="10.20" fill="#70bd44"/>
<rect x="406.00" y="139.06" width="24.20" height="10.20" fill="#70bd44"/>
<rect x="406.00" y="148.66" width="24.20" height="10.20" fill="#184c29"/>
<rect x="406.00" y="158.25" width="24.20" height="10.20" fill="#160f0f"/>
<rect x="406.00" y="167.85" width="24.20" height="10.20" fill="#14301c"/>
<rect x="406.00" y="177.45" width="24.20" height="10.20" fill="#70bd44"/>
<rect x="406.00" y="187.04" width="24.20" height="10.20" fill="#39b54c"/>
<rect x="406.00" y="196.64" width="24.20" height="10.20" fill="#70bd44"/>
<rect x="406.00" y="206.23" width="24.20" height="10.20" fill="#184c29"/>
<rect x="406.00" y="215.83" width="24.20" height="10.20" fill="#70bd44"/>
<rect x="406.00" y="225.42" width="24.20" height="10.20" fill="#70bd44"/>
<rect x="406.00" y="235.02" width="24.20" height="10.20" fill="#184c29"/>
<rect x="406.00" y="244.61" width="24.20" height="10.20" fill="#70bd44"/>
<rect x="406.00" y="254.21" width="24.20" height="10.20" fill="#39b54c"/>
<rect x="406.00" y="263.80" width="24.20" height="9.60" fill="#184c29"/>
<rect x="406.00" y="284.65" width="24.20" height="10.31" fill="#1a883e"/>
<rect x="406.00" y="294.36" width="24.20" height="10.31" fill="#c81c24"/>
<rect x="406.00" y="304.06" width="24.20" height="10.31" fill="#96161c"/>
<rect x="406.00" y="313.77" width="24.20" height="10.31" fill="#ed1e26"/>
<rect x="406.00" y="323.47" width="24.20" height="10.31" fill="#96161c"/>
<rect x="406.00" y="333.18" width="24.20" height="10.31" fill="#ed1e26"/>
<rect x="406.00" y="342.89" width="24.20" height="10.31" fill="#621116"/>
<rect x="406.00" y="352.59" width="24.20" height="10.31" fill="#ed1e26"/>
<rect x="406.00" y="362.30" width="24.20" height="10.31" fill="#160f0f"/>
<rect x="406.00" y="372.01" width="24.20" height="10.31" fill="#3c0e11"/>
<rect x="406.00" y="381.71" width="24.20" height="10.31" fill="#3c0e11"/>
<rect x="406.00" y="391.42" width="24.20" height="10.31" fill="#39b54c"/>
<rect x="406.00" y="401.12" width="24.20" height="10.31" fill="#96161c"/>
<rect x="406.00" y="410.83" width="24.20" height="10.31" fill="#160f0f"/>
<rect x="406.00" y="420.54" width="24.20" height="10.31" fill="#160f0f"/>
<rect x="406.00" y="430.24" width="24.20" height="9.71" fill="#ed1e26"/>
<rect x="430.20" y="62.30" width="24.20" height="10.20" fill="#3c0e11"/>
<rect x="430.20" y="71.90" width="24.20" height="10.20" fill="#ed1e26"/>
<rect x="430.20" y="81.49" width="24.20" height="10.20" fill="#c81c24"/>
<rect x="430.20" y="91.09" width="24.20" height="10.20" fill="#c81c24"/>
<rect x="430.20" y="100.68" width="24.20" height="10.20" fill="#96161c"/>
<rect x="430.20" y="110.28" width="24.20" height="10.20" fill="#c81c24"/>
<rect x="430.20" y="119.87" width="24.20" height="10.20" fill="#621116"/>
<rect x="430.20" y="129.47" width="24.20" height="10.20" fill="#621116"/>
<rect x="430.20" y="139.06" width="24.20" height="10.20" fill="#3c0e11"/>
<rect x="430.20" y="148.66" width="24.20" height="10.20" fill="#96161c"/>
<rect x="430.20" y="158.25" width="24.20" height="10.20" fill="#96161c"/>
<rect x="430.20" y="167.85" width="24.20" height="10.20" fill="#96161c"/>
<rect x="430.20" y="177.45" width="24.20" height="10.20" fill="#3c0e11"/>
<rect x="430.20" y="187.04" width="24.20" height="10.20" fill="#3c0e11"/>
<rect x="430.20" y="196.64" width="24.20" height="10.20" fill="#160f0f"/>
<rect x="430.20" y="206.23" width="24.20" height="10.20" fill="#3c0e11"/>
<rect x="430.20" y="215.83" width="24.20" height="10.20" fill="#160f0f"/>
<rect x="430.20" y="225.42" width="24.20" height="10.20" fill="#160f0f"/>
<rect x="430.20" y="235.02" width="24.20" height="10.20" fill="#160f0f"/>
<rect x="430.20" y="244.61" width="24.20" height="10.20" fill="#160f0f"/>
<rect x="430.20" y="254.21" width="24.20" height="10.20" fill="#160f0f"/>
<rect x="430.20" y="263.80" width="24.20" height="9.60" fill="#14301c"/>
<rect x="430.20" y="284.65" width="24.20" height="10.31" fill="#160f0f"/>
<rect x="430.20" y="294.36" width="24.20" height="10.31" fill="#3c0e11"/>
<rect x="430.20" y="304.06" width="24.20" height="10.31" fill="#3c0e11"/>
<rect x="430.20" y="313.77" width="24.20" height="10.31" fill="#160f0f"/>
<rect x="430.20" y="323.47" width="24.20" height="10.31" fill="#14301c"/>
<rect x="430.20" y="333.18" width="24.20" height="10.31" fill="#14301c"/>
<rect x="430.20" y="342.89" width="24.20" height="10.31" fill="#184c29"/>
<rect x="430.20" y="352.59" width="24.20" height="10.31" fill="#14301c"/>
<rect x="430.20" y="362.30" width="24.20" height="10.31" fill="#184c29"/>
<rect x="430.20" y="372.01" width="24.20" height="10.31" fill="#184c29"/>
<rect x="430.20" y="381.71" width="24.20" height="10.31" fill="#184c29"/>
<rect x="430.20" y="391.42" width="24.20" height="10.31" fill="#1a883e"/>
<rect x="430.20" y="401.12" width="24.20" height="10.31" fill="#184c29"/>
<rect x="430.20" y="410.83" width="24.20" height="10.31" fill="#1a883e"/>
<rect x="430.20" y="420.54" width="24.20" height="10.31" fill="#39b54c"/>
<rect x="430.20" y="430.24" width="24.20" height="9.71" fill="#1a883e"/>
<rect x="472.80" y="62.30" width="25.00" height="10.20" fill="#a51920"/>
<rect x="472.80" y="71.90" width="25.00" height="10.20" fill="#a0161e"/>
<rect x="472.80" y="81.49" width="25.00" height="10.20" fill="#96141c"/>
<rect x="472.80" y="91.09" width="25.00" height="10.20" fill="#a51920"/>
<rect x="472.80" y="100.68" width="25.00" height="10.20" fill="#af1b21"/>
<rect x="472.80" y="110.28" width="25.00" height="10.20" fill="#871219"/>
<rect x="472.80" y="119.87" width="25.00" height="10.20" fill="#8c141a"/>
<rect x="472.80" y="129.47" width="25.00" height="10.20" fill="#aa1a20"/>
<rect x="472.80" y="139.06" width="25.00" height="10.20" fill="#a0181e"/>
<rect x="472.80" y="148.66" width="25.00" height="10.20" fill="#e62028"/>
<rect x="472.80" y="158.25" width="25.00" height="10.20" fill="#7d1218"/>
<rect x="472.80" y="167.85" width="25.00" height="10.20" fill="#b41b21"/>
<rect x="472.80" y="177.45" width="25.00" height="10.20" fill="#a5191f"/>
<rect x="472.80" y="187.04" width="25.00" height="10.20" fill="#a2181e"/>
<rect x="472.80" y="196.64" width="25.00" height="10.20" fill="#a0181e"/>
<rect x="472.80" y="206.23" width="25.00" height="10.20" fill="#781218"/>
<rect x="472.80" y="215.83" width="25.00" height="10.20" fill="#a5191f"/>
<rect x="472.80" y="225.42" width="25.00" height="10.20" fill="#9b171d"/>
<rect x="472.80" y="235.02" width="25.00" height="10.20" fill="#aa1a20"/>
<rect x="472.80" y="244.61" width="25.00" height="10.20" fill="#5f0f14"/>
<rect x="472.80" y="254.21" width="25.00" height="10.20" fill="#dc1e26"/>
<rect x="472.80" y="263.80" width="25.00" height="9.60" fill="#d71e25"/>
<rect x="472.80" y="284.65" width="25.00" height="10.31" fill="#24a54b"/>
<rect x="472.80" y="294.36" width="25.00" height="10.31" fill="#24a54b"/>
<rect x="472.80" y="304.06" width="25.00" height="10.31" fill="#24a24b"/>
<rect x="472.80" y="313.77" width="25.00" height="10.31" fill="#24a04a"/>
<rect x="472.80" y="323.47" width="25.00" height="10.31" fill="#229646"/>
<rect x="472.80" y="333.18" width="25.00" height="10.31" fill="#1e823e"/>
<rect x="472.80" y="342.89" width="25.00" height="10.31" fill="#1a7337"/>
<rect x="472.80" y="352.59" width="25.00" height="10.31" fill="#2daa4b"/>
<rect x="472.80" y="362.30" width="25.00" height="10.31" fill="#44b446"/>
<rect x="472.80" y="372.01" width="25.00" height="10.31" fill="#32ac48"/>
<rect x="472.80" y="381.71" width="25.00" height="10.31" fill="#229444"/>
<rect x="472.80" y="391.42" width="25.00" height="10.31" fill="#2da54a"/>
<rect x="472.80" y="401.12" width="25.00" height="10.31" fill="#229444"/>
<rect x="472.80" y="410.83" width="25.00" height="10.31" fill="#34af4a"/>
<rect x="472.80" y="420.54" width="25.00" height="10.31" fill="#32ac4a"/>
<rect x="472.80" y="430.24" width="25.00" height="9.71" fill="#1c7a3a"/>
<text x="4.60" y="19.20" font-size="25.00" font-weight="bold" text-anchor="start" fill="#231f20" stroke="#231f20" stroke-width="0.7">A</text>
<text x="90.10" y="36.50" font-size="16.50" font-weight="bold" text-anchor="start" fill="#231f20" letter-spacing="0.2">Patient ID in Fern&#224;ndez et al.</text>
<text x="63.00" y="57.10" font-size="12.80" font-weight="normal" text-anchor="middle" fill="#231f20">F1</text>
<text x="88.20" y="57.10" font-size="12.80" font-weight="normal" text-anchor="middle" fill="#231f20">F2</text>
<text x="113.40" y="57.10" font-size="12.80" font-weight="normal" text-anchor="middle" fill="#231f20">F3</text>
<text x="138.60" y="57.10" font-size="12.80" font-weight="normal" text-anchor="middle" fill="#231f20">F4</text>
<text x="163.80" y="57.10" font-size="12.80" font-weight="normal" text-anchor="middle" fill="#231f20">F5</text>
<text x="189.00" y="57.10" font-size="12.80" font-weight="normal" text-anchor="middle" fill="#231f20">F6</text>
<text x="214.20" y="57.10" font-size="12.80" font-weight="normal" text-anchor="middle" fill="#231f20">F7</text>
<text x="239.40" y="57.10" font-size="12.80" font-weight="normal" text-anchor="middle" fill="#231f20">F8</text>
<text x="264.60" y="57.10" font-size="12.80" font-weight="normal" text-anchor="middle" fill="#231f20">F10</text>
<text x="289.80" y="57.10" font-size="12.80" font-weight="normal" text-anchor="middle" fill="#231f20">F11</text>
<text x="315.00" y="57.10" font-size="12.80" font-weight="normal" text-anchor="middle" fill="#231f20">F12</text>
<text x="340.20" y="57.10" font-size="12.80" font-weight="normal" text-anchor="middle" fill="#231f20">F13</text>
<text x="46.90" y="70.80" font-size="11.80" font-weight="normal" text-anchor="end" fill="#231f20">3C</text>
<text x="46.90" y="80.60" font-size="11.80" font-weight="normal" text-anchor="end" fill="#231f20">3I</text>
<text x="46.90" y="89.70" font-size="11.80" font-weight="normal" text-anchor="end" fill="#231f20">3J</text>
<text x="46.90" y="99.40" font-size="11.80" font-weight="normal" text-anchor="end" fill="#231f20">3K</text>
<text x="46.90" y="109.40" font-size="11.80" font-weight="normal" text-anchor="end" fill="#231f20">3D</text>
<text x="46.90" y="119.40" font-size="11.80" font-weight="normal" text-anchor="end" fill="#231f20">3L</text>
<text x="46.90" y="128.40" font-size="11.80" font-weight="normal" text-anchor="end" fill="#231f20">3A</text>
<text x="46.90" y="137.80" font-size="11.80" font-weight="normal" text-anchor="end" fill="#231f20">3M</text>
<text x="46.90" y="147.00" font-size="11.80" font-weight="normal" text-anchor="end" fill="#231f20">3G</text>
<text x="46.90" y="157.30" font-size="11.80" font-weight="normal" text-anchor="end" fill="#231f20">3N</text>
<text x="46.90" y="167.50" font-size="11.80" font-weight="normal" text-anchor="end" fill="#231f20">3O</text>
<text x="46.90" y="419.30" font-size="11.80" font-weight="normal" text-anchor="end" fill="#231f20">3T</text>
<text x="46.90" y="430.00" font-size="11.80" font-weight="normal" text-anchor="end" fill="#231f20">3S</text>
<text x="46.90" y="440.30" font-size="11.80" font-weight="normal" text-anchor="end" fill="#231f20">3R</text>
<text x="358.30" y="47.20" font-size="13.80" font-weight="normal" text-anchor="start" fill="#231f20" transform="rotate(-45 358.30 47.20)">average</text>
<text x="371.00" y="58.00" font-size="13.80" font-weight="normal" text-anchor="start" fill="#231f20" transform="rotate(-45 371.00 58.00)">change</text>
<text x="412.60" y="57.10" font-size="12.80" font-weight="normal" text-anchor="start" fill="#231f20">F9</text>
<text x="432.60" y="47.60" font-size="13.80" font-weight="normal" text-anchor="start" fill="#231f20" transform="rotate(-45 432.60 47.60)">average</text>
<text x="444.80" y="60.00" font-size="13.80" font-weight="normal" text-anchor="start" fill="#231f20" transform="rotate(-45 444.80 60.00)">change<tspan font-size="10" dx="0.8" dy="-6.5">*</tspan></text>
<text x="480.50" y="58.00" font-size="13.80" font-weight="normal" text-anchor="start" fill="#231f20" transform="rotate(-45 480.50 58.00)">UCSD</text>
<text x="22.00" y="326.50" font-size="16.80" font-weight="bold" text-anchor="start" fill="#231f20" transform="rotate(-90 22.00 326.50)">38 subnetworks</text>
<text x="513.70" y="219.00" font-size="16.80" font-weight="bold" text-anchor="start" fill="#c81e32" transform="rotate(-90 513.70 219.00)">pro-onconet</text>
<text x="513.90" y="412.80" font-size="16.80" font-weight="bold" text-anchor="start" fill="#157a3c" transform="rotate(-90 513.90 412.80)">anti-onconet</text>
<text x="126.70" y="464.60" font-size="14.10" font-weight="normal" text-anchor="start" fill="#231f20">activity change during disease progression</text>
<defs><linearGradient id="gA" x1="0" x2="1" y1="0" y2="0"><stop offset="0" stop-color="#4cbc4a"/><stop offset="0.25" stop-color="#1f8a45"/><stop offset="0.5" stop-color="#0f1510"/><stop offset="0.6" stop-color="#1a0c0c"/><stop offset="1" stop-color="#ee2128"/></linearGradient><linearGradient id="gB" x1="0" x2="1" y1="0" y2="0"><stop offset="0" stop-color="#3549a8"/><stop offset="0.3" stop-color="#232878"/><stop offset="0.5" stop-color="#101010"/><stop offset="0.65" stop-color="#3a3a20"/><stop offset="1" stop-color="#f2e81c"/></linearGradient></defs>
<rect x="180.60" y="469.50" width="139.00" height="10.70" fill="url(#gA)"/>
<text x="148.30" y="494.60" font-size="14.10" font-weight="normal" text-anchor="start" fill="#231f20">decreased</text>
<text x="288.70" y="494.60" font-size="14.10" font-weight="normal" text-anchor="start" fill="#231f20">increased</text>
<text x="6.50" y="521.60" font-size="25.00" font-weight="bold" text-anchor="start" fill="#231f20" stroke="#231f20" stroke-width="0.7">B</text>
<rect x="75.10" y="589.20" width="18.50" height="9.76" fill="#504e26"/>
<rect x="93.00" y="589.20" width="18.50" height="9.76" fill="#405fc6"/>
<rect x="110.90" y="589.20" width="18.50" height="9.76" fill="#3240ac"/>
<rect x="128.80" y="589.20" width="18.50" height="9.76" fill="#3240ac"/>
<rect x="146.70" y="589.20" width="18.50" height="9.76" fill="#3240ac"/>
<rect x="164.60" y="589.20" width="18.50" height="9.76" fill="#405fc6"/>
<rect x="182.50" y="589.20" width="18.50" height="9.76" fill="#16161c"/>
<rect x="200.40" y="589.20" width="18.50" height="9.76" fill="#f8ec10"/>
<rect x="218.30" y="589.20" width="17.90" height="9.76" fill="#f8ec10"/>
<rect x="75.10" y="598.36" width="18.50" height="9.76" fill="#22226a"/>
<rect x="93.00" y="598.36" width="18.50" height="9.76" fill="#405fc6"/>
<rect x="110.90" y="598.36" width="18.50" height="9.76" fill="#3240ac"/>
<rect x="128.80" y="598.36" width="18.50" height="9.76" fill="#504e26"/>
<rect x="146.70" y="598.36" width="18.50" height="9.76" fill="#405fc6"/>
<rect x="164.60" y="598.36" width="18.50" height="9.76" fill="#22226a"/>
<rect x="182.50" y="598.36" width="18.50" height="9.76" fill="#f8ec10"/>
<rect x="200.40" y="598.36" width="18.50" height="9.76" fill="#f8ec10"/>
<rect x="218.30" y="598.36" width="17.90" height="9.76" fill="#405fc6"/>
<rect x="75.10" y="607.53" width="18.50" height="9.76" fill="#405fc6"/>
<rect x="93.00" y="607.53" width="18.50" height="9.76" fill="#f8ec10"/>
<rect x="110.90" y="607.53" width="18.50" height="9.76" fill="#3240ac"/>
<rect x="128.80" y="607.53" width="18.50" height="9.76" fill="#16161c"/>
<rect x="146.70" y="607.53" width="18.50" height="9.76" fill="#cdc32d"/>
<rect x="164.60" y="607.53" width="18.50" height="9.76" fill="#504e26"/>
<rect x="182.50" y="607.53" width="18.50" height="9.76" fill="#f8ec10"/>
<rect x="200.40" y="607.53" width="18.50" height="9.76" fill="#504e26"/>
<rect x="218.30" y="607.53" width="17.90" height="9.76" fill="#f8ec10"/>
<rect x="75.10" y="616.69" width="18.50" height="9.76" fill="#405fc6"/>
<rect x="93.00" y="616.69" width="18.50" height="9.76" fill="#405fc6"/>
<rect x="110.90" y="616.69" width="18.50" height="9.76" fill="#22226a"/>
<rect x="128.80" y="616.69" width="18.50" height="9.76" fill="#22226a"/>
<rect x="146.70" y="616.69" width="18.50" height="9.76" fill="#22226a"/>
<rect x="164.60" y="616.69" width="18.50" height="9.76" fill="#504e26"/>
<rect x="182.50" y="616.69" width="18.50" height="9.76" fill="#16161c"/>
<rect x="200.40" y="616.69" width="18.50" height="9.76" fill="#f8ec10"/>
<rect x="218.30" y="616.69" width="17.90" height="9.76" fill="#f8ec10"/>
<rect x="75.10" y="625.85" width="18.50" height="9.76" fill="#405fc6"/>
<rect x="93.00" y="625.85" width="18.50" height="9.76" fill="#22226a"/>
<rect x="110.90" y="625.85" width="18.50" height="9.76" fill="#22226a"/>
<rect x="128.80" y="625.85" width="18.50" height="9.76" fill="#405fc6"/>
<rect x="146.70" y="625.85" width="18.50" height="9.76" fill="#405fc6"/>
<rect x="164.60" y="625.85" width="18.50" height="9.76" fill="#3240ac"/>
<rect x="182.50" y="625.85" width="18.50" height="9.76" fill="#f8ec10"/>
<rect x="200.40" y="625.85" width="18.50" height="9.76" fill="#22226a"/>
<rect x="218.30" y="625.85" width="17.90" height="9.76" fill="#f8ec10"/>
<rect x="75.10" y="635.02" width="18.50" height="9.76" fill="#405fc6"/>
<rect x="93.00" y="635.02" width="18.50" height="9.76" fill="#405fc6"/>
<rect x="110.90" y="635.02" width="18.50" height="9.76" fill="#3240ac"/>
<rect x="128.80" y="635.02" width="18.50" height="9.76" fill="#405fc6"/>
<rect x="146.70" y="635.02" width="18.50" height="9.76" fill="#16161c"/>
<rect x="164.60" y="635.02" width="18.50" height="9.76" fill="#f8ec10"/>
<rect x="182.50" y="635.02" width="18.50" height="9.76" fill="#8c8732"/>
<rect x="200.40" y="635.02" width="18.50" height="9.76" fill="#f8ec10"/>
<rect x="218.30" y="635.02" width="17.90" height="9.76" fill="#f8ec10"/>
<rect x="75.10" y="644.18" width="18.50" height="9.76" fill="#3240ac"/>
<rect x="93.00" y="644.18" width="18.50" height="9.76" fill="#405fc6"/>
<rect x="110.90" y="644.18" width="18.50" height="9.76" fill="#16161c"/>
<rect x="128.80" y="644.18" width="18.50" height="9.76" fill="#3240ac"/>
<rect x="146.70" y="644.18" width="18.50" height="9.76" fill="#16161c"/>
<rect x="164.60" y="644.18" width="18.50" height="9.76" fill="#22226a"/>
<rect x="182.50" y="644.18" width="18.50" height="9.76" fill="#504e26"/>
<rect x="200.40" y="644.18" width="18.50" height="9.76" fill="#cdc32d"/>
<rect x="218.30" y="644.18" width="17.90" height="9.76" fill="#cdc32d"/>
<rect x="75.10" y="653.35" width="18.50" height="9.76" fill="#405fc6"/>
<rect x="93.00" y="653.35" width="18.50" height="9.76" fill="#16161c"/>
<rect x="110.90" y="653.35" width="18.50" height="9.76" fill="#22226a"/>
<rect x="128.80" y="653.35" width="18.50" height="9.76" fill="#3240ac"/>
<rect x="146.70" y="653.35" width="18.50" height="9.76" fill="#3240ac"/>
<rect x="164.60" y="653.35" width="18.50" height="9.76" fill="#405fc6"/>
<rect x="182.50" y="653.35" width="18.50" height="9.76" fill="#3240ac"/>
<rect x="200.40" y="653.35" width="18.50" height="9.76" fill="#f8ec10"/>
<rect x="218.30" y="653.35" width="17.90" height="9.76" fill="#8c8732"/>
<rect x="75.10" y="662.51" width="18.50" height="9.76" fill="#3240ac"/>
<rect x="93.00" y="662.51" width="18.50" height="9.76" fill="#405fc6"/>
<rect x="110.90" y="662.51" width="18.50" height="9.76" fill="#16161c"/>
<rect x="128.80" y="662.51" width="18.50" height="9.76" fill="#405fc6"/>
<rect x="146.70" y="662.51" width="18.50" height="9.76" fill="#3240ac"/>
<rect x="164.60" y="662.51" width="18.50" height="9.76" fill="#504e26"/>
<rect x="182.50" y="662.51" width="18.50" height="9.76" fill="#8c8732"/>
<rect x="200.40" y="662.51" width="18.50" height="9.76" fill="#f8ec10"/>
<rect x="218.30" y="662.51" width="17.90" height="9.76" fill="#f8ec10"/>
<rect x="75.10" y="671.67" width="18.50" height="9.76" fill="#405fc6"/>
<rect x="93.00" y="671.67" width="18.50" height="9.76" fill="#405fc6"/>
<rect x="110.90" y="671.67" width="18.50" height="9.76" fill="#504e26"/>
<rect x="128.80" y="671.67" width="18.50" height="9.76" fill="#405fc6"/>
<rect x="146.70" y="671.67" width="18.50" height="9.76" fill="#3240ac"/>
<rect x="164.60" y="671.67" width="18.50" height="9.76" fill="#f8ec10"/>
<rect x="182.50" y="671.67" width="18.50" height="9.76" fill="#8c8732"/>
<rect x="200.40" y="671.67" width="18.50" height="9.76" fill="#f8ec10"/>
<rect x="218.30" y="671.67" width="17.90" height="9.76" fill="#f8ec10"/>
<rect x="75.10" y="680.84" width="18.50" height="9.76" fill="#f8ec10"/>
<rect x="93.00" y="680.84" width="18.50" height="9.76" fill="#f8ec10"/>
<rect x="110.90" y="680.84" width="18.50" height="9.76" fill="#16161c"/>
<rect x="128.80" y="680.84" width="18.50" height="9.76" fill="#22226a"/>
<rect x="146.70" y="680.84" width="18.50" height="9.76" fill="#405fc6"/>
<rect x="164.60" y="680.84" width="18.50" height="9.76" fill="#405fc6"/>
<rect x="182.50" y="680.84" width="18.50" height="9.76" fill="#cdc32d"/>
<rect x="200.40" y="680.84" width="18.50" height="9.76" fill="#8c8732"/>
<rect x="218.30" y="680.84" width="17.90" height="9.76" fill="#f8ec10"/>
<rect x="75.10" y="690.00" width="18.50" height="9.76" fill="#22226a"/>
<rect x="93.00" y="690.00" width="18.50" height="9.76" fill="#8c8732"/>
<rect x="110.90" y="690.00" width="18.50" height="9.76" fill="#16161c"/>
<rect x="128.80" y="690.00" width="18.50" height="9.76" fill="#405fc6"/>
<rect x="146.70" y="690.00" width="18.50" height="9.76" fill="#22226a"/>
<rect x="164.60" y="690.00" width="18.50" height="9.76" fill="#f8ec10"/>
<rect x="182.50" y="690.00" width="18.50" height="9.76" fill="#f8ec10"/>
<rect x="200.40" y="690.00" width="18.50" height="9.76" fill="#f8ec10"/>
<rect x="218.30" y="690.00" width="17.90" height="9.76" fill="#cdc32d"/>
<rect x="75.10" y="699.16" width="18.50" height="9.76" fill="#405fc6"/>
<rect x="93.00" y="699.16" width="18.50" height="9.76" fill="#8c8732"/>
<rect x="110.90" y="699.16" width="18.50" height="9.76" fill="#504e26"/>
<rect x="128.80" y="699.16" width="18.50" height="9.76" fill="#3240ac"/>
<rect x="146.70" y="699.16" width="18.50" height="9.76" fill="#22226a"/>
<rect x="164.60" y="699.16" width="18.50" height="9.76" fill="#22226a"/>
<rect x="182.50" y="699.16" width="18.50" height="9.76" fill="#cdc32d"/>
<rect x="200.40" y="699.16" width="18.50" height="9.76" fill="#f8ec10"/>
<rect x="218.30" y="699.16" width="17.90" height="9.76" fill="#504e26"/>
<rect x="75.10" y="708.33" width="18.50" height="9.76" fill="#405fc6"/>
<rect x="93.00" y="708.33" width="18.50" height="9.76" fill="#f8ec10"/>
<rect x="110.90" y="708.33" width="18.50" height="9.76" fill="#16161c"/>
<rect x="128.80" y="708.33" width="18.50" height="9.76" fill="#3240ac"/>
<rect x="146.70" y="708.33" width="18.50" height="9.76" fill="#405fc6"/>
<rect x="164.60" y="708.33" width="18.50" height="9.76" fill="#405fc6"/>
<rect x="182.50" y="708.33" width="18.50" height="9.76" fill="#f8ec10"/>
<rect x="200.40" y="708.33" width="18.50" height="9.76" fill="#cdc32d"/>
<rect x="218.30" y="708.33" width="17.90" height="9.76" fill="#f8ec10"/>
<rect x="75.10" y="717.49" width="18.50" height="9.76" fill="#405fc6"/>
<rect x="93.00" y="717.49" width="18.50" height="9.76" fill="#405fc6"/>
<rect x="110.90" y="717.49" width="18.50" height="9.76" fill="#3240ac"/>
<rect x="128.80" y="717.49" width="18.50" height="9.76" fill="#405fc6"/>
<rect x="146.70" y="717.49" width="18.50" height="9.76" fill="#3240ac"/>
<rect x="164.60" y="717.49" width="18.50" height="9.76" fill="#f8ec10"/>
<rect x="182.50" y="717.49" width="18.50" height="9.76" fill="#504e26"/>
<rect x="200.40" y="717.49" width="18.50" height="9.76" fill="#f8ec10"/>
<rect x="218.30" y="717.49" width="17.90" height="9.76" fill="#f8ec10"/>
<rect x="75.10" y="726.65" width="18.50" height="9.76" fill="#cdc32d"/>
<rect x="93.00" y="726.65" width="18.50" height="9.76" fill="#22226a"/>
<rect x="110.90" y="726.65" width="18.50" height="9.76" fill="#3240ac"/>
<rect x="128.80" y="726.65" width="18.50" height="9.76" fill="#405fc6"/>
<rect x="146.70" y="726.65" width="18.50" height="9.76" fill="#3240ac"/>
<rect x="164.60" y="726.65" width="18.50" height="9.76" fill="#405fc6"/>
<rect x="182.50" y="726.65" width="18.50" height="9.76" fill="#16161c"/>
<rect x="200.40" y="726.65" width="18.50" height="9.76" fill="#f8ec10"/>
<rect x="218.30" y="726.65" width="17.90" height="9.76" fill="#f8ec10"/>
<rect x="75.10" y="735.82" width="18.50" height="9.76" fill="#405fc6"/>
<rect x="93.00" y="735.82" width="18.50" height="9.76" fill="#405fc6"/>
<rect x="110.90" y="735.82" width="18.50" height="9.76" fill="#22226a"/>
<rect x="128.80" y="735.82" width="18.50" height="9.76" fill="#405fc6"/>
<rect x="146.70" y="735.82" width="18.50" height="9.76" fill="#405fc6"/>
<rect x="164.60" y="735.82" width="18.50" height="9.76" fill="#8c8732"/>
<rect x="182.50" y="735.82" width="18.50" height="9.76" fill="#8c8732"/>
<rect x="200.40" y="735.82" width="18.50" height="9.76" fill="#f8ec10"/>
<rect x="218.30" y="735.82" width="17.90" height="9.76" fill="#8c8732"/>
<rect x="75.10" y="744.98" width="18.50" height="9.76" fill="#405fc6"/>
<rect x="93.00" y="744.98" width="18.50" height="9.76" fill="#3240ac"/>
<rect x="110.90" y="744.98" width="18.50" height="9.76" fill="#22226a"/>
<rect x="128.80" y="744.98" width="18.50" height="9.76" fill="#405fc6"/>
<rect x="146.70" y="744.98" width="18.50" height="9.76" fill="#16161c"/>
<rect x="164.60" y="744.98" width="18.50" height="9.76" fill="#16161c"/>
<rect x="182.50" y="744.98" width="18.50" height="9.76" fill="#cdc32d"/>
<rect x="200.40" y="744.98" width="18.50" height="9.76" fill="#f8ec10"/>
<rect x="218.30" y="744.98" width="17.90" height="9.76" fill="#f8ec10"/>
<rect x="75.10" y="754.15" width="18.50" height="9.76" fill="#f8ec10"/>
<rect x="93.00" y="754.15" width="18.50" height="9.76" fill="#22226a"/>
<rect x="110.90" y="754.15" width="18.50" height="9.76" fill="#f8ec10"/>
<rect x="128.80" y="754.15" width="18.50" height="9.76" fill="#405fc6"/>
<rect x="146.70" y="754.15" width="18.50" height="9.76" fill="#22226a"/>
<rect x="164.60" y="754.15" width="18.50" height="9.76" fill="#22226a"/>
<rect x="182.50" y="754.15" width="18.50" height="9.76" fill="#16161c"/>
<rect x="200.40" y="754.15" width="18.50" height="9.76" fill="#f8ec10"/>
<rect x="218.30" y="754.15" width="17.90" height="9.76" fill="#3240ac"/>
<rect x="75.10" y="763.31" width="18.50" height="9.76" fill="#22226a"/>
<rect x="93.00" y="763.31" width="18.50" height="9.76" fill="#405fc6"/>
<rect x="110.90" y="763.31" width="18.50" height="9.76" fill="#405fc6"/>
<rect x="128.80" y="763.31" width="18.50" height="9.76" fill="#504e26"/>
<rect x="146.70" y="763.31" width="18.50" height="9.76" fill="#22226a"/>
<rect x="164.60" y="763.31" width="18.50" height="9.76" fill="#22226a"/>
<rect x="182.50" y="763.31" width="18.50" height="9.76" fill="#f8ec10"/>
<rect x="200.40" y="763.31" width="18.50" height="9.76" fill="#3240ac"/>
<rect x="218.30" y="763.31" width="17.90" height="9.76" fill="#16161c"/>
<rect x="75.10" y="772.47" width="18.50" height="9.76" fill="#405fc6"/>
<rect x="93.00" y="772.47" width="18.50" height="9.76" fill="#405fc6"/>
<rect x="110.90" y="772.47" width="18.50" height="9.76" fill="#16161c"/>
<rect x="128.80" y="772.47" width="18.50" height="9.76" fill="#405fc6"/>
<rect x="146.70" y="772.47" width="18.50" height="9.76" fill="#16161c"/>
<rect x="164.60" y="772.47" width="18.50" height="9.76" fill="#16161c"/>
<rect x="182.50" y="772.47" width="18.50" height="9.76" fill="#3240ac"/>
<rect x="200.40" y="772.47" width="18.50" height="9.76" fill="#f8ec10"/>
<rect x="218.30" y="772.47" width="17.90" height="9.76" fill="#504e26"/>
<rect x="75.10" y="781.64" width="18.50" height="9.76" fill="#3240ac"/>
<rect x="93.00" y="781.64" width="18.50" height="9.76" fill="#504e26"/>
<rect x="110.90" y="781.64" width="18.50" height="9.76" fill="#16161c"/>
<rect x="128.80" y="781.64" width="18.50" height="9.76" fill="#3240ac"/>
<rect x="146.70" y="781.64" width="18.50" height="9.76" fill="#22226a"/>
<rect x="164.60" y="781.64" width="18.50" height="9.76" fill="#22226a"/>
<rect x="182.50" y="781.64" width="18.50" height="9.76" fill="#f8ec10"/>
<rect x="200.40" y="781.64" width="18.50" height="9.76" fill="#f8ec10"/>
<rect x="218.30" y="781.64" width="17.90" height="9.76" fill="#f8ec10"/>
<rect x="75.10" y="799.20" width="18.50" height="9.79" fill="#405fc6"/>
<rect x="93.00" y="799.20" width="18.50" height="9.79" fill="#504e26"/>
<rect x="110.90" y="799.20" width="18.50" height="9.79" fill="#f8ec10"/>
<rect x="128.80" y="799.20" width="18.50" height="9.79" fill="#8c8732"/>
<rect x="146.70" y="799.20" width="18.50" height="9.79" fill="#504e26"/>
<rect x="164.60" y="799.20" width="18.50" height="9.79" fill="#22226a"/>
<rect x="182.50" y="799.20" width="18.50" height="9.79" fill="#504e26"/>
<rect x="200.40" y="799.20" width="18.50" height="9.79" fill="#405fc6"/>
<rect x="218.30" y="799.20" width="17.90" height="9.79" fill="#22226a"/>
<rect x="75.10" y="808.39" width="18.50" height="9.79" fill="#8c8732"/>
<rect x="93.00" y="808.39" width="18.50" height="9.79" fill="#f8ec10"/>
<rect x="110.90" y="808.39" width="18.50" height="9.79" fill="#8c8732"/>
<rect x="128.80" y="808.39" width="18.50" height="9.79" fill="#f8ec10"/>
<rect x="146.70" y="808.39" width="18.50" height="9.79" fill="#16161c"/>
<rect x="164.60" y="808.39" width="18.50" height="9.79" fill="#cdc32d"/>
<rect x="182.50" y="808.39" width="18.50" height="9.79" fill="#f8ec10"/>
<rect x="200.40" y="808.39" width="18.50" height="9.79" fill="#8c8732"/>
<rect x="218.30" y="808.39" width="17.90" height="9.79" fill="#405fc6"/>
<rect x="75.10" y="817.58" width="18.50" height="9.79" fill="#405fc6"/>
<rect x="93.00" y="817.58" width="18.50" height="9.79" fill="#504e26"/>
<rect x="110.90" y="817.58" width="18.50" height="9.79" fill="#504e26"/>
<rect x="128.80" y="817.58" width="18.50" height="9.79" fill="#16161c"/>
<rect x="146.70" y="817.58" width="18.50" height="9.79" fill="#16161c"/>
<rect x="164.60" y="817.58" width="18.50" height="9.79" fill="#cdc32d"/>
<rect x="182.50" y="817.58" width="18.50" height="9.79" fill="#22226a"/>
<rect x="200.40" y="817.58" width="18.50" height="9.79" fill="#405fc6"/>
<rect x="218.30" y="817.58" width="17.90" height="9.79" fill="#504e26"/>
<rect x="75.10" y="826.76" width="18.50" height="9.79" fill="#504e26"/>
<rect x="93.00" y="826.76" width="18.50" height="9.79" fill="#504e26"/>
<rect x="110.90" y="826.76" width="18.50" height="9.79" fill="#f8ec10"/>
<rect x="128.80" y="826.76" width="18.50" height="9.79" fill="#f8ec10"/>
<rect x="146.70" y="826.76" width="18.50" height="9.79" fill="#22226a"/>
<rect x="164.60" y="826.76" width="18.50" height="9.79" fill="#f8ec10"/>
<rect x="182.50" y="826.76" width="18.50" height="9.79" fill="#504e26"/>
<rect x="200.40" y="826.76" width="18.50" height="9.79" fill="#405fc6"/>
<rect x="218.30" y="826.76" width="17.90" height="9.79" fill="#405fc6"/>
<rect x="75.10" y="835.95" width="18.50" height="9.79" fill="#405fc6"/>
<rect x="93.00" y="835.95" width="18.50" height="9.79" fill="#405fc6"/>
<rect x="110.90" y="835.95" width="18.50" height="9.79" fill="#cdc32d"/>
<rect x="128.80" y="835.95" width="18.50" height="9.79" fill="#cdc32d"/>
<rect x="146.70" y="835.95" width="18.50" height="9.79" fill="#405fc6"/>
<rect x="164.60" y="835.95" width="18.50" height="9.79" fill="#405fc6"/>
<rect x="182.50" y="835.95" width="18.50" height="9.79" fill="#cdc32d"/>
<rect x="200.40" y="835.95" width="18.50" height="9.79" fill="#405fc6"/>
<rect x="218.30" y="835.95" width="17.90" height="9.79" fill="#cdc32d"/>
<rect x="75.10" y="845.14" width="18.50" height="9.79" fill="#22226a"/>
<rect x="93.00" y="845.14" width="18.50" height="9.79" fill="#16161c"/>
<rect x="110.90" y="845.14" width="18.50" height="9.79" fill="#f8ec10"/>
<rect x="128.80" y="845.14" width="18.50" height="9.79" fill="#f8ec10"/>
<rect x="146.70" y="845.14" width="18.50" height="9.79" fill="#405fc6"/>
<rect x="164.60" y="845.14" width="18.50" height="9.79" fill="#8c8732"/>
<rect x="182.50" y="845.14" width="18.50" height="9.79" fill="#405fc6"/>
<rect x="200.40" y="845.14" width="18.50" height="9.79" fill="#405fc6"/>
<rect x="218.30" y="845.14" width="17.90" height="9.79" fill="#405fc6"/>
<rect x="75.10" y="854.33" width="18.50" height="9.79" fill="#405fc6"/>
<rect x="93.00" y="854.33" width="18.50" height="9.79" fill="#22226a"/>
<rect x="110.90" y="854.33" width="18.50" height="9.79" fill="#f8ec10"/>
<rect x="128.80" y="854.33" width="18.50" height="9.79" fill="#f8ec10"/>
<rect x="146.70" y="854.33" width="18.50" height="9.79" fill="#504e26"/>
<rect x="164.60" y="854.33" width="18.50" height="9.79" fill="#504e26"/>
<rect x="182.50" y="854.33" width="18.50" height="9.79" fill="#22226a"/>
<rect x="200.40" y="854.33" width="18.50" height="9.79" fill="#22226a"/>
<rect x="218.30" y="854.33" width="17.90" height="9.79" fill="#22226a"/>
<rect x="75.10" y="863.51" width="18.50" height="9.79" fill="#405fc6"/>
<rect x="93.00" y="863.51" width="18.50" height="9.79" fill="#16161c"/>
<rect x="110.90" y="863.51" width="18.50" height="9.79" fill="#f8ec10"/>
<rect x="128.80" y="863.51" width="18.50" height="9.79" fill="#f8ec10"/>
<rect x="146.70" y="863.51" width="18.50" height="9.79" fill="#8c8732"/>
<rect x="164.60" y="863.51" width="18.50" height="9.79" fill="#504e26"/>
<rect x="182.50" y="863.51" width="18.50" height="9.79" fill="#405fc6"/>
<rect x="200.40" y="863.51" width="18.50" height="9.79" fill="#16161c"/>
<rect x="218.30" y="863.51" width="17.90" height="9.79" fill="#22226a"/>
<rect x="75.10" y="872.70" width="18.50" height="9.79" fill="#8c8732"/>
<rect x="93.00" y="872.70" width="18.50" height="9.79" fill="#8c8732"/>
<rect x="110.90" y="872.70" width="18.50" height="9.79" fill="#cdc32d"/>
<rect x="128.80" y="872.70" width="18.50" height="9.79" fill="#f8ec10"/>
<rect x="146.70" y="872.70" width="18.50" height="9.79" fill="#16161c"/>
<rect x="164.60" y="872.70" width="18.50" height="9.79" fill="#16161c"/>
<rect x="182.50" y="872.70" width="18.50" height="9.79" fill="#22226a"/>
<rect x="200.40" y="872.70" width="18.50" height="9.79" fill="#16161c"/>
<rect x="218.30" y="872.70" width="17.90" height="9.79" fill="#405fc6"/>
<rect x="75.10" y="881.89" width="18.50" height="9.79" fill="#405fc6"/>
<rect x="93.00" y="881.89" width="18.50" height="9.79" fill="#504e26"/>
<rect x="110.90" y="881.89" width="18.50" height="9.79" fill="#f8ec10"/>
<rect x="128.80" y="881.89" width="18.50" height="9.79" fill="#cdc32d"/>
<rect x="146.70" y="881.89" width="18.50" height="9.79" fill="#504e26"/>
<rect x="164.60" y="881.89" width="18.50" height="9.79" fill="#f8ec10"/>
<rect x="182.50" y="881.89" width="18.50" height="9.79" fill="#8c8732"/>
<rect x="200.40" y="881.89" width="18.50" height="9.79" fill="#16161c"/>
<rect x="218.30" y="881.89" width="17.90" height="9.79" fill="#504e26"/>
<rect x="75.10" y="891.08" width="18.50" height="9.79" fill="#8c8732"/>
<rect x="93.00" y="891.08" width="18.50" height="9.79" fill="#16161c"/>
<rect x="110.90" y="891.08" width="18.50" height="9.79" fill="#504e26"/>
<rect x="128.80" y="891.08" width="18.50" height="9.79" fill="#f8ec10"/>
<rect x="146.70" y="891.08" width="18.50" height="9.79" fill="#16161c"/>
<rect x="164.60" y="891.08" width="18.50" height="9.79" fill="#22226a"/>
<rect x="182.50" y="891.08" width="18.50" height="9.79" fill="#504e26"/>
<rect x="200.40" y="891.08" width="18.50" height="9.79" fill="#3240ac"/>
<rect x="218.30" y="891.08" width="17.90" height="9.79" fill="#16161c"/>
<rect x="75.10" y="900.26" width="18.50" height="9.79" fill="#16161c"/>
<rect x="93.00" y="900.26" width="18.50" height="9.79" fill="#405fc6"/>
<rect x="110.90" y="900.26" width="18.50" height="9.79" fill="#8c8732"/>
<rect x="128.80" y="900.26" width="18.50" height="9.79" fill="#f8ec10"/>
<rect x="146.70" y="900.26" width="18.50" height="9.79" fill="#22226a"/>
<rect x="164.60" y="900.26" width="18.50" height="9.79" fill="#405fc6"/>
<rect x="182.50" y="900.26" width="18.50" height="9.79" fill="#22226a"/>
<rect x="200.40" y="900.26" width="18.50" height="9.79" fill="#3240ac"/>
<rect x="218.30" y="900.26" width="17.90" height="9.79" fill="#22226a"/>
<rect x="75.10" y="909.45" width="18.50" height="9.79" fill="#405fc6"/>
<rect x="93.00" y="909.45" width="18.50" height="9.79" fill="#22226a"/>
<rect x="110.90" y="909.45" width="18.50" height="9.79" fill="#f8ec10"/>
<rect x="128.80" y="909.45" width="18.50" height="9.79" fill="#f8ec10"/>
<rect x="146.70" y="909.45" width="18.50" height="9.79" fill="#16161c"/>
<rect x="164.60" y="909.45" width="18.50" height="9.79" fill="#f8ec10"/>
<rect x="182.50" y="909.45" width="18.50" height="9.79" fill="#8c8732"/>
<rect x="200.40" y="909.45" width="18.50" height="9.79" fill="#cdc32d"/>
<rect x="218.30" y="909.45" width="17.90" height="9.79" fill="#405fc6"/>
<rect x="75.10" y="918.64" width="18.50" height="9.79" fill="#504e26"/>
<rect x="93.00" y="918.64" width="18.50" height="9.79" fill="#22226a"/>
<rect x="110.90" y="918.64" width="18.50" height="9.79" fill="#504e26"/>
<rect x="128.80" y="918.64" width="18.50" height="9.79" fill="#f8ec10"/>
<rect x="146.70" y="918.64" width="18.50" height="9.79" fill="#3240ac"/>
<rect x="164.60" y="918.64" width="18.50" height="9.79" fill="#405fc6"/>
<rect x="182.50" y="918.64" width="18.50" height="9.79" fill="#3240ac"/>
<rect x="200.40" y="918.64" width="18.50" height="9.79" fill="#16161c"/>
<rect x="218.30" y="918.64" width="17.90" height="9.79" fill="#16161c"/>
<rect x="75.10" y="927.83" width="18.50" height="9.79" fill="#8c8732"/>
<rect x="93.00" y="927.83" width="18.50" height="9.79" fill="#405fc6"/>
<rect x="110.90" y="927.83" width="18.50" height="9.79" fill="#16161c"/>
<rect x="128.80" y="927.83" width="18.50" height="9.79" fill="#cdc32d"/>
<rect x="146.70" y="927.83" width="18.50" height="9.79" fill="#3240ac"/>
<rect x="164.60" y="927.83" width="18.50" height="9.79" fill="#8c8732"/>
<rect x="182.50" y="927.83" width="18.50" height="9.79" fill="#3240ac"/>
<rect x="200.40" y="927.83" width="18.50" height="9.79" fill="#8c8732"/>
<rect x="218.30" y="927.83" width="17.90" height="9.79" fill="#405fc6"/>
<rect x="75.10" y="937.01" width="18.50" height="9.19" fill="#405fc6"/>
<rect x="93.00" y="937.01" width="18.50" height="9.19" fill="#f8ec10"/>
<rect x="110.90" y="937.01" width="18.50" height="9.19" fill="#504e26"/>
<rect x="128.80" y="937.01" width="18.50" height="9.19" fill="#f8ec10"/>
<rect x="146.70" y="937.01" width="18.50" height="9.19" fill="#cdc32d"/>
<rect x="164.60" y="937.01" width="18.50" height="9.19" fill="#16161c"/>
<rect x="182.50" y="937.01" width="18.50" height="9.19" fill="#504e26"/>
<rect x="200.40" y="937.01" width="18.50" height="9.19" fill="#504e26"/>
<rect x="218.30" y="937.01" width="17.90" height="9.19" fill="#3240ac"/>
<rect x="75.10" y="790.80" width="161.10" height="8.40" fill="#8a8a93"/>
<rect x="281.50" y="587.60" width="18.93" height="9.84" fill="#8c8732"/>
<rect x="299.83" y="587.60" width="18.93" height="9.84" fill="#3240ac"/>
<rect x="318.16" y="587.60" width="18.93" height="9.84" fill="#3240ac"/>
<rect x="336.49" y="587.60" width="18.93" height="9.84" fill="#405fc6"/>
<rect x="354.82" y="587.60" width="18.93" height="9.84" fill="#22226a"/>
<rect x="373.15" y="587.60" width="18.93" height="9.84" fill="#f8ec10"/>
<rect x="391.48" y="587.60" width="18.93" height="9.84" fill="#f8ec10"/>
<rect x="409.81" y="587.60" width="18.93" height="9.84" fill="#16161c"/>
<rect x="428.14" y="587.60" width="18.33" height="9.84" fill="#f8ec10"/>
<rect x="281.50" y="596.84" width="18.93" height="9.84" fill="#16161c"/>
<rect x="299.83" y="596.84" width="18.93" height="9.84" fill="#405fc6"/>
<rect x="318.16" y="596.84" width="18.93" height="9.84" fill="#16161c"/>
<rect x="336.49" y="596.84" width="18.93" height="9.84" fill="#22226a"/>
<rect x="354.82" y="596.84" width="18.93" height="9.84" fill="#cdc32d"/>
<rect x="373.15" y="596.84" width="18.93" height="9.84" fill="#f8ec10"/>
<rect x="391.48" y="596.84" width="18.93" height="9.84" fill="#8c8732"/>
<rect x="409.81" y="596.84" width="18.93" height="9.84" fill="#cdc32d"/>
<rect x="428.14" y="596.84" width="18.33" height="9.84" fill="#16161c"/>
<rect x="281.50" y="606.07" width="18.93" height="9.84" fill="#405fc6"/>
<rect x="299.83" y="606.07" width="18.93" height="9.84" fill="#504e26"/>
<rect x="318.16" y="606.07" width="18.93" height="9.84" fill="#f8ec10"/>
<rect x="336.49" y="606.07" width="18.93" height="9.84" fill="#16161c"/>
<rect x="354.82" y="606.07" width="18.93" height="9.84" fill="#16161c"/>
<rect x="373.15" y="606.07" width="18.93" height="9.84" fill="#f8ec10"/>
<rect x="391.48" y="606.07" width="18.93" height="9.84" fill="#cdc32d"/>
<rect x="409.81" y="606.07" width="18.93" height="9.84" fill="#16161c"/>
<rect x="428.14" y="606.07" width="18.33" height="9.84" fill="#f8ec10"/>
<rect x="281.50" y="615.31" width="18.93" height="9.84" fill="#405fc6"/>
<rect x="299.83" y="615.31" width="18.93" height="9.84" fill="#405fc6"/>
<rect x="318.16" y="615.31" width="18.93" height="9.84" fill="#3240ac"/>
<rect x="336.49" y="615.31" width="18.93" height="9.84" fill="#3240ac"/>
<rect x="354.82" y="615.31" width="18.93" height="9.84" fill="#16161c"/>
<rect x="373.15" y="615.31" width="18.93" height="9.84" fill="#f8ec10"/>
<rect x="391.48" y="615.31" width="18.93" height="9.84" fill="#f8ec10"/>
<rect x="409.81" y="615.31" width="18.93" height="9.84" fill="#f8ec10"/>
<rect x="428.14" y="615.31" width="18.33" height="9.84" fill="#8c8732"/>
<rect x="281.50" y="624.55" width="18.93" height="9.84" fill="#16161c"/>
<rect x="299.83" y="624.55" width="18.93" height="9.84" fill="#405fc6"/>
<rect x="318.16" y="624.55" width="18.93" height="9.84" fill="#3240ac"/>
<rect x="336.49" y="624.55" width="18.93" height="9.84" fill="#405fc6"/>
<rect x="354.82" y="624.55" width="18.93" height="9.84" fill="#405fc6"/>
<rect x="373.15" y="624.55" width="18.93" height="9.84" fill="#f8ec10"/>
<rect x="391.48" y="624.55" width="18.93" height="9.84" fill="#f8ec10"/>
<rect x="409.81" y="624.55" width="18.93" height="9.84" fill="#8c8732"/>
<rect x="428.14" y="624.55" width="18.33" height="9.84" fill="#f8ec10"/>
<rect x="281.50" y="633.78" width="18.93" height="9.84" fill="#22226a"/>
<rect x="299.83" y="633.78" width="18.93" height="9.84" fill="#405fc6"/>
<rect x="318.16" y="633.78" width="18.93" height="9.84" fill="#405fc6"/>
<rect x="336.49" y="633.78" width="18.93" height="9.84" fill="#405fc6"/>
<rect x="354.82" y="633.78" width="18.93" height="9.84" fill="#f8ec10"/>
<rect x="373.15" y="633.78" width="18.93" height="9.84" fill="#f8ec10"/>
<rect x="391.48" y="633.78" width="18.93" height="9.84" fill="#f8ec10"/>
<rect x="409.81" y="633.78" width="18.93" height="9.84" fill="#f8ec10"/>
<rect x="428.14" y="633.78" width="18.33" height="9.84" fill="#f8ec10"/>
<rect x="281.50" y="643.02" width="18.93" height="9.84" fill="#8c8732"/>
<rect x="299.83" y="643.02" width="18.93" height="9.84" fill="#405fc6"/>
<rect x="318.16" y="643.02" width="18.93" height="9.84" fill="#3240ac"/>
<rect x="336.49" y="643.02" width="18.93" height="9.84" fill="#405fc6"/>
<rect x="354.82" y="643.02" width="18.93" height="9.84" fill="#f8ec10"/>
<rect x="373.15" y="643.02" width="18.93" height="9.84" fill="#504e26"/>
<rect x="391.48" y="643.02" width="18.93" height="9.84" fill="#f8ec10"/>
<rect x="409.81" y="643.02" width="18.93" height="9.84" fill="#f8ec10"/>
<rect x="428.14" y="643.02" width="18.33" height="9.84" fill="#f8ec10"/>
<rect x="281.50" y="652.25" width="18.93" height="9.84" fill="#504e26"/>
<rect x="299.83" y="652.25" width="18.93" height="9.84" fill="#f8ec10"/>
<rect x="318.16" y="652.25" width="18.93" height="9.84" fill="#cdc32d"/>
<rect x="336.49" y="652.25" width="18.93" height="9.84" fill="#405fc6"/>
<rect x="354.82" y="652.25" width="18.93" height="9.84" fill="#8c8732"/>
<rect x="373.15" y="652.25" width="18.93" height="9.84" fill="#8c8732"/>
<rect x="391.48" y="652.25" width="18.93" height="9.84" fill="#8c8732"/>
<rect x="409.81" y="652.25" width="18.93" height="9.84" fill="#16161c"/>
<rect x="428.14" y="652.25" width="18.33" height="9.84" fill="#f8ec10"/>
<rect x="281.50" y="661.49" width="18.93" height="9.84" fill="#405fc6"/>
<rect x="299.83" y="661.49" width="18.93" height="9.84" fill="#405fc6"/>
<rect x="318.16" y="661.49" width="18.93" height="9.84" fill="#16161c"/>
<rect x="336.49" y="661.49" width="18.93" height="9.84" fill="#22226a"/>
<rect x="354.82" y="661.49" width="18.93" height="9.84" fill="#405fc6"/>
<rect x="373.15" y="661.49" width="18.93" height="9.84" fill="#8c8732"/>
<rect x="391.48" y="661.49" width="18.93" height="9.84" fill="#f8ec10"/>
<rect x="409.81" y="661.49" width="18.93" height="9.84" fill="#f8ec10"/>
<rect x="428.14" y="661.49" width="18.33" height="9.84" fill="#cdc32d"/>
<rect x="281.50" y="670.73" width="18.93" height="9.84" fill="#3240ac"/>
<rect x="299.83" y="670.73" width="18.93" height="9.84" fill="#405fc6"/>
<rect x="318.16" y="670.73" width="18.93" height="9.84" fill="#405fc6"/>
<rect x="336.49" y="670.73" width="18.93" height="9.84" fill="#405fc6"/>
<rect x="354.82" y="670.73" width="18.93" height="9.84" fill="#f8ec10"/>
<rect x="373.15" y="670.73" width="18.93" height="9.84" fill="#f8ec10"/>
<rect x="391.48" y="670.73" width="18.93" height="9.84" fill="#f8ec10"/>
<rect x="409.81" y="670.73" width="18.93" height="9.84" fill="#f8ec10"/>
<rect x="428.14" y="670.73" width="18.33" height="9.84" fill="#f8ec10"/>
<rect x="281.50" y="679.96" width="18.93" height="9.84" fill="#405fc6"/>
<rect x="299.83" y="679.96" width="18.93" height="9.84" fill="#405fc6"/>
<rect x="318.16" y="679.96" width="18.93" height="9.84" fill="#405fc6"/>
<rect x="336.49" y="679.96" width="18.93" height="9.84" fill="#22226a"/>
<rect x="354.82" y="679.96" width="18.93" height="9.84" fill="#16161c"/>
<rect x="373.15" y="679.96" width="18.93" height="9.84" fill="#504e26"/>
<rect x="391.48" y="679.96" width="18.93" height="9.84" fill="#f8ec10"/>
<rect x="409.81" y="679.96" width="18.93" height="9.84" fill="#504e26"/>
<rect x="428.14" y="679.96" width="18.33" height="9.84" fill="#f8ec10"/>
<rect x="281.50" y="689.20" width="18.93" height="9.84" fill="#3240ac"/>
<rect x="299.83" y="689.20" width="18.93" height="9.84" fill="#405fc6"/>
<rect x="318.16" y="689.20" width="18.93" height="9.84" fill="#405fc6"/>
<rect x="336.49" y="689.20" width="18.93" height="9.84" fill="#3240ac"/>
<rect x="354.82" y="689.20" width="18.93" height="9.84" fill="#405fc6"/>
<rect x="373.15" y="689.20" width="18.93" height="9.84" fill="#f8ec10"/>
<rect x="391.48" y="689.20" width="18.93" height="9.84" fill="#f8ec10"/>
<rect x="409.81" y="689.20" width="18.93" height="9.84" fill="#504e26"/>
<rect x="428.14" y="689.20" width="18.33" height="9.84" fill="#f8ec10"/>
<rect x="281.50" y="698.44" width="18.93" height="9.84" fill="#405fc6"/>
<rect x="299.83" y="698.44" width="18.93" height="9.84" fill="#22226a"/>
<rect x="318.16" y="698.44" width="18.93" height="9.84" fill="#16161c"/>
<rect x="336.49" y="698.44" width="18.93" height="9.84" fill="#cdc32d"/>
<rect x="354.82" y="698.44" width="18.93" height="9.84" fill="#cdc32d"/>
<rect x="373.15" y="698.44" width="18.93" height="9.84" fill="#f8ec10"/>
<rect x="391.48" y="698.44" width="18.93" height="9.84" fill="#f8ec10"/>
<rect x="409.81" y="698.44" width="18.93" height="9.84" fill="#405fc6"/>
<rect x="428.14" y="698.44" width="18.33" height="9.84" fill="#f8ec10"/>
<rect x="281.50" y="707.67" width="18.93" height="9.84" fill="#405fc6"/>
<rect x="299.83" y="707.67" width="18.93" height="9.84" fill="#405fc6"/>
<rect x="318.16" y="707.67" width="18.93" height="9.84" fill="#405fc6"/>
<rect x="336.49" y="707.67" width="18.93" height="9.84" fill="#22226a"/>
<rect x="354.82" y="707.67" width="18.93" height="9.84" fill="#16161c"/>
<rect x="373.15" y="707.67" width="18.93" height="9.84" fill="#f8ec10"/>
<rect x="391.48" y="707.67" width="18.93" height="9.84" fill="#f8ec10"/>
<rect x="409.81" y="707.67" width="18.93" height="9.84" fill="#f8ec10"/>
<rect x="428.14" y="707.67" width="18.33" height="9.84" fill="#f8ec10"/>
<rect x="281.50" y="716.91" width="18.93" height="9.84" fill="#3240ac"/>
<rect x="299.83" y="716.91" width="18.93" height="9.84" fill="#405fc6"/>
<rect x="318.16" y="716.91" width="18.93" height="9.84" fill="#405fc6"/>
<rect x="336.49" y="716.91" width="18.93" height="9.84" fill="#405fc6"/>
<rect x="354.82" y="716.91" width="18.93" height="9.84" fill="#504e26"/>
<rect x="373.15" y="716.91" width="18.93" height="9.84" fill="#f8ec10"/>
<rect x="391.48" y="716.91" width="18.93" height="9.84" fill="#f8ec10"/>
<rect x="409.81" y="716.91" width="18.93" height="9.84" fill="#f8ec10"/>
<rect x="428.14" y="716.91" width="18.33" height="9.84" fill="#8c8732"/>
<rect x="281.50" y="726.15" width="18.93" height="9.84" fill="#22226a"/>
<rect x="299.83" y="726.15" width="18.93" height="9.84" fill="#405fc6"/>
<rect x="318.16" y="726.15" width="18.93" height="9.84" fill="#22226a"/>
<rect x="336.49" y="726.15" width="18.93" height="9.84" fill="#3240ac"/>
<rect x="354.82" y="726.15" width="18.93" height="9.84" fill="#8c8732"/>
<rect x="373.15" y="726.15" width="18.93" height="9.84" fill="#f8ec10"/>
<rect x="391.48" y="726.15" width="18.93" height="9.84" fill="#22226a"/>
<rect x="409.81" y="726.15" width="18.93" height="9.84" fill="#504e26"/>
<rect x="428.14" y="726.15" width="18.33" height="9.84" fill="#f8ec10"/>
<rect x="281.50" y="735.38" width="18.93" height="9.84" fill="#405fc6"/>
<rect x="299.83" y="735.38" width="18.93" height="9.84" fill="#3240ac"/>
<rect x="318.16" y="735.38" width="18.93" height="9.84" fill="#22226a"/>
<rect x="336.49" y="735.38" width="18.93" height="9.84" fill="#405fc6"/>
<rect x="354.82" y="735.38" width="18.93" height="9.84" fill="#f8ec10"/>
<rect x="373.15" y="735.38" width="18.93" height="9.84" fill="#f8ec10"/>
<rect x="391.48" y="735.38" width="18.93" height="9.84" fill="#f8ec10"/>
<rect x="409.81" y="735.38" width="18.93" height="9.84" fill="#504e26"/>
<rect x="428.14" y="735.38" width="18.33" height="9.84" fill="#f8ec10"/>
<rect x="281.50" y="744.62" width="18.93" height="9.84" fill="#3240ac"/>
<rect x="299.83" y="744.62" width="18.93" height="9.84" fill="#405fc6"/>
<rect x="318.16" y="744.62" width="18.93" height="9.84" fill="#3240ac"/>
<rect x="336.49" y="744.62" width="18.93" height="9.84" fill="#3240ac"/>
<rect x="354.82" y="744.62" width="18.93" height="9.84" fill="#22226a"/>
<rect x="373.15" y="744.62" width="18.93" height="9.84" fill="#f8ec10"/>
<rect x="391.48" y="744.62" width="18.93" height="9.84" fill="#f8ec10"/>
<rect x="409.81" y="744.62" width="18.93" height="9.84" fill="#f8ec10"/>
<rect x="428.14" y="744.62" width="18.33" height="9.84" fill="#8c8732"/>
<rect x="281.50" y="753.85" width="18.93" height="9.84" fill="#405fc6"/>
<rect x="299.83" y="753.85" width="18.93" height="9.84" fill="#16161c"/>
<rect x="318.16" y="753.85" width="18.93" height="9.84" fill="#16161c"/>
<rect x="336.49" y="753.85" width="18.93" height="9.84" fill="#405fc6"/>
<rect x="354.82" y="753.85" width="18.93" height="9.84" fill="#504e26"/>
<rect x="373.15" y="753.85" width="18.93" height="9.84" fill="#f8ec10"/>
<rect x="391.48" y="753.85" width="18.93" height="9.84" fill="#504e26"/>
<rect x="409.81" y="753.85" width="18.93" height="9.84" fill="#8c8732"/>
<rect x="428.14" y="753.85" width="18.33" height="9.84" fill="#8c8732"/>
<rect x="281.50" y="763.09" width="18.93" height="9.84" fill="#22226a"/>
<rect x="299.83" y="763.09" width="18.93" height="9.84" fill="#504e26"/>
<rect x="318.16" y="763.09" width="18.93" height="9.84" fill="#22226a"/>
<rect x="336.49" y="763.09" width="18.93" height="9.84" fill="#22226a"/>
<rect x="354.82" y="763.09" width="18.93" height="9.84" fill="#22226a"/>
<rect x="373.15" y="763.09" width="18.93" height="9.84" fill="#f8ec10"/>
<rect x="391.48" y="763.09" width="18.93" height="9.84" fill="#f8ec10"/>
<rect x="409.81" y="763.09" width="18.93" height="9.84" fill="#504e26"/>
<rect x="428.14" y="763.09" width="18.33" height="9.84" fill="#405fc6"/>
<rect x="281.50" y="772.33" width="18.93" height="9.84" fill="#405fc6"/>
<rect x="299.83" y="772.33" width="18.93" height="9.84" fill="#405fc6"/>
<rect x="318.16" y="772.33" width="18.93" height="9.84" fill="#22226a"/>
<rect x="336.49" y="772.33" width="18.93" height="9.84" fill="#cdc32d"/>
<rect x="354.82" y="772.33" width="18.93" height="9.84" fill="#16161c"/>
<rect x="373.15" y="772.33" width="18.93" height="9.84" fill="#16161c"/>
<rect x="391.48" y="772.33" width="18.93" height="9.84" fill="#f8ec10"/>
<rect x="409.81" y="772.33" width="18.93" height="9.84" fill="#f8ec10"/>
<rect x="428.14" y="772.33" width="18.33" height="9.84" fill="#f8ec10"/>
<rect x="281.50" y="781.56" width="18.93" height="9.84" fill="#22226a"/>
<rect x="299.83" y="781.56" width="18.93" height="9.84" fill="#405fc6"/>
<rect x="318.16" y="781.56" width="18.93" height="9.84" fill="#3240ac"/>
<rect x="336.49" y="781.56" width="18.93" height="9.84" fill="#405fc6"/>
<rect x="354.82" y="781.56" width="18.93" height="9.84" fill="#f8ec10"/>
<rect x="373.15" y="781.56" width="18.93" height="9.84" fill="#f8ec10"/>
<rect x="391.48" y="781.56" width="18.93" height="9.84" fill="#f8ec10"/>
<rect x="409.81" y="781.56" width="18.93" height="9.84" fill="#504e26"/>
<rect x="428.14" y="781.56" width="18.33" height="9.84" fill="#f8ec10"/>
<rect x="281.50" y="799.70" width="18.93" height="9.78" fill="#f8ec10"/>
<rect x="299.83" y="799.70" width="18.93" height="9.78" fill="#3240ac"/>
<rect x="318.16" y="799.70" width="18.93" height="9.78" fill="#3240ac"/>
<rect x="336.49" y="799.70" width="18.93" height="9.78" fill="#3240ac"/>
<rect x="354.82" y="799.70" width="18.93" height="9.78" fill="#22226a"/>
<rect x="373.15" y="799.70" width="18.93" height="9.78" fill="#405fc6"/>
<rect x="391.48" y="799.70" width="18.93" height="9.78" fill="#f8ec10"/>
<rect x="409.81" y="799.70" width="18.93" height="9.78" fill="#3240ac"/>
<rect x="428.14" y="799.70" width="18.33" height="9.78" fill="#22226a"/>
<rect x="281.50" y="808.88" width="18.93" height="9.78" fill="#504e26"/>
<rect x="299.83" y="808.88" width="18.93" height="9.78" fill="#22226a"/>
<rect x="318.16" y="808.88" width="18.93" height="9.78" fill="#f8ec10"/>
<rect x="336.49" y="808.88" width="18.93" height="9.78" fill="#16161c"/>
<rect x="354.82" y="808.88" width="18.93" height="9.78" fill="#22226a"/>
<rect x="373.15" y="808.88" width="18.93" height="9.78" fill="#16161c"/>
<rect x="391.48" y="808.88" width="18.93" height="9.78" fill="#22226a"/>
<rect x="409.81" y="808.88" width="18.93" height="9.78" fill="#405fc6"/>
<rect x="428.14" y="808.88" width="18.33" height="9.78" fill="#405fc6"/>
<rect x="281.50" y="818.06" width="18.93" height="9.78" fill="#16161c"/>
<rect x="299.83" y="818.06" width="18.93" height="9.78" fill="#f8ec10"/>
<rect x="318.16" y="818.06" width="18.93" height="9.78" fill="#f8ec10"/>
<rect x="336.49" y="818.06" width="18.93" height="9.78" fill="#504e26"/>
<rect x="354.82" y="818.06" width="18.93" height="9.78" fill="#405fc6"/>
<rect x="373.15" y="818.06" width="18.93" height="9.78" fill="#405fc6"/>
<rect x="391.48" y="818.06" width="18.93" height="9.78" fill="#22226a"/>
<rect x="409.81" y="818.06" width="18.93" height="9.78" fill="#405fc6"/>
<rect x="428.14" y="818.06" width="18.33" height="9.78" fill="#f8ec10"/>
<rect x="281.50" y="827.24" width="18.93" height="9.78" fill="#504e26"/>
<rect x="299.83" y="827.24" width="18.93" height="9.78" fill="#22226a"/>
<rect x="318.16" y="827.24" width="18.93" height="9.78" fill="#16161c"/>
<rect x="336.49" y="827.24" width="18.93" height="9.78" fill="#f8ec10"/>
<rect x="354.82" y="827.24" width="18.93" height="9.78" fill="#405fc6"/>
<rect x="373.15" y="827.24" width="18.93" height="9.78" fill="#16161c"/>
<rect x="391.48" y="827.24" width="18.93" height="9.78" fill="#16161c"/>
<rect x="409.81" y="827.24" width="18.93" height="9.78" fill="#405fc6"/>
<rect x="428.14" y="827.24" width="18.33" height="9.78" fill="#405fc6"/>
<rect x="281.50" y="836.43" width="18.93" height="9.78" fill="#f8ec10"/>
<rect x="299.83" y="836.43" width="18.93" height="9.78" fill="#504e26"/>
<rect x="318.16" y="836.43" width="18.93" height="9.78" fill="#f8ec10"/>
<rect x="336.49" y="836.43" width="18.93" height="9.78" fill="#504e26"/>
<rect x="354.82" y="836.43" width="18.93" height="9.78" fill="#3240ac"/>
<rect x="373.15" y="836.43" width="18.93" height="9.78" fill="#504e26"/>
<rect x="391.48" y="836.43" width="18.93" height="9.78" fill="#16161c"/>
<rect x="409.81" y="836.43" width="18.93" height="9.78" fill="#405fc6"/>
<rect x="428.14" y="836.43" width="18.33" height="9.78" fill="#cdc32d"/>
<rect x="281.50" y="845.61" width="18.93" height="9.78" fill="#504e26"/>
<rect x="299.83" y="845.61" width="18.93" height="9.78" fill="#8c8732"/>
<rect x="318.16" y="845.61" width="18.93" height="9.78" fill="#16161c"/>
<rect x="336.49" y="845.61" width="18.93" height="9.78" fill="#f8ec10"/>
<rect x="354.82" y="845.61" width="18.93" height="9.78" fill="#405fc6"/>
<rect x="373.15" y="845.61" width="18.93" height="9.78" fill="#405fc6"/>
<rect x="391.48" y="845.61" width="18.93" height="9.78" fill="#3240ac"/>
<rect x="409.81" y="845.61" width="18.93" height="9.78" fill="#405fc6"/>
<rect x="428.14" y="845.61" width="18.33" height="9.78" fill="#22226a"/>
<rect x="281.50" y="854.79" width="18.93" height="9.78" fill="#16161c"/>
<rect x="299.83" y="854.79" width="18.93" height="9.78" fill="#22226a"/>
<rect x="318.16" y="854.79" width="18.93" height="9.78" fill="#cdc32d"/>
<rect x="336.49" y="854.79" width="18.93" height="9.78" fill="#f8ec10"/>
<rect x="354.82" y="854.79" width="18.93" height="9.78" fill="#22226a"/>
<rect x="373.15" y="854.79" width="18.93" height="9.78" fill="#405fc6"/>
<rect x="391.48" y="854.79" width="18.93" height="9.78" fill="#f8ec10"/>
<rect x="409.81" y="854.79" width="18.93" height="9.78" fill="#3240ac"/>
<rect x="428.14" y="854.79" width="18.33" height="9.78" fill="#16161c"/>
<rect x="281.50" y="863.97" width="18.93" height="9.78" fill="#f8ec10"/>
<rect x="299.83" y="863.97" width="18.93" height="9.78" fill="#16161c"/>
<rect x="318.16" y="863.97" width="18.93" height="9.78" fill="#8c8732"/>
<rect x="336.49" y="863.97" width="18.93" height="9.78" fill="#f8ec10"/>
<rect x="354.82" y="863.97" width="18.93" height="9.78" fill="#22226a"/>
<rect x="373.15" y="863.97" width="18.93" height="9.78" fill="#3240ac"/>
<rect x="391.48" y="863.97" width="18.93" height="9.78" fill="#3240ac"/>
<rect x="409.81" y="863.97" width="18.93" height="9.78" fill="#16161c"/>
<rect x="428.14" y="863.97" width="18.33" height="9.78" fill="#405fc6"/>
<rect x="281.50" y="873.15" width="18.93" height="9.78" fill="#f8ec10"/>
<rect x="299.83" y="873.15" width="18.93" height="9.78" fill="#8c8732"/>
<rect x="318.16" y="873.15" width="18.93" height="9.78" fill="#cdc32d"/>
<rect x="336.49" y="873.15" width="18.93" height="9.78" fill="#f8ec10"/>
<rect x="354.82" y="873.15" width="18.93" height="9.78" fill="#16161c"/>
<rect x="373.15" y="873.15" width="18.93" height="9.78" fill="#405fc6"/>
<rect x="391.48" y="873.15" width="18.93" height="9.78" fill="#405fc6"/>
<rect x="409.81" y="873.15" width="18.93" height="9.78" fill="#405fc6"/>
<rect x="428.14" y="873.15" width="18.33" height="9.78" fill="#405fc6"/>
<rect x="281.50" y="882.33" width="18.93" height="9.78" fill="#405fc6"/>
<rect x="299.83" y="882.33" width="18.93" height="9.78" fill="#3240ac"/>
<rect x="318.16" y="882.33" width="18.93" height="9.78" fill="#f8ec10"/>
<rect x="336.49" y="882.33" width="18.93" height="9.78" fill="#f8ec10"/>
<rect x="354.82" y="882.33" width="18.93" height="9.78" fill="#405fc6"/>
<rect x="373.15" y="882.33" width="18.93" height="9.78" fill="#22226a"/>
<rect x="391.48" y="882.33" width="18.93" height="9.78" fill="#cdc32d"/>
<rect x="409.81" y="882.33" width="18.93" height="9.78" fill="#405fc6"/>
<rect x="428.14" y="882.33" width="18.33" height="9.78" fill="#16161c"/>
<rect x="281.50" y="891.51" width="18.93" height="9.78" fill="#22226a"/>
<rect x="299.83" y="891.51" width="18.93" height="9.78" fill="#16161c"/>
<rect x="318.16" y="891.51" width="18.93" height="9.78" fill="#f8ec10"/>
<rect x="336.49" y="891.51" width="18.93" height="9.78" fill="#f8ec10"/>
<rect x="354.82" y="891.51" width="18.93" height="9.78" fill="#405fc6"/>
<rect x="373.15" y="891.51" width="18.93" height="9.78" fill="#16161c"/>
<rect x="391.48" y="891.51" width="18.93" height="9.78" fill="#22226a"/>
<rect x="409.81" y="891.51" width="18.93" height="9.78" fill="#405fc6"/>
<rect x="428.14" y="891.51" width="18.33" height="9.78" fill="#f8ec10"/>
<rect x="281.50" y="900.69" width="18.93" height="9.78" fill="#f8ec10"/>
<rect x="299.83" y="900.69" width="18.93" height="9.78" fill="#504e26"/>
<rect x="318.16" y="900.69" width="18.93" height="9.78" fill="#22226a"/>
<rect x="336.49" y="900.69" width="18.93" height="9.78" fill="#22226a"/>
<rect x="354.82" y="900.69" width="18.93" height="9.78" fill="#f8ec10"/>
<rect x="373.15" y="900.69" width="18.93" height="9.78" fill="#405fc6"/>
<rect x="391.48" y="900.69" width="18.93" height="9.78" fill="#16161c"/>
<rect x="409.81" y="900.69" width="18.93" height="9.78" fill="#3240ac"/>
<rect x="428.14" y="900.69" width="18.33" height="9.78" fill="#cdc32d"/>
<rect x="281.50" y="909.88" width="18.93" height="9.78" fill="#16161c"/>
<rect x="299.83" y="909.88" width="18.93" height="9.78" fill="#8c8732"/>
<rect x="318.16" y="909.88" width="18.93" height="9.78" fill="#cdc32d"/>
<rect x="336.49" y="909.88" width="18.93" height="9.78" fill="#f8ec10"/>
<rect x="354.82" y="909.88" width="18.93" height="9.78" fill="#16161c"/>
<rect x="373.15" y="909.88" width="18.93" height="9.78" fill="#504e26"/>
<rect x="391.48" y="909.88" width="18.93" height="9.78" fill="#f8ec10"/>
<rect x="409.81" y="909.88" width="18.93" height="9.78" fill="#405fc6"/>
<rect x="428.14" y="909.88" width="18.33" height="9.78" fill="#3240ac"/>
<rect x="281.50" y="919.06" width="18.93" height="9.78" fill="#f8ec10"/>
<rect x="299.83" y="919.06" width="18.93" height="9.78" fill="#3240ac"/>
<rect x="318.16" y="919.06" width="18.93" height="9.78" fill="#8c8732"/>
<rect x="336.49" y="919.06" width="18.93" height="9.78" fill="#504e26"/>
<rect x="354.82" y="919.06" width="18.93" height="9.78" fill="#3240ac"/>
<rect x="373.15" y="919.06" width="18.93" height="9.78" fill="#8c8732"/>
<rect x="391.48" y="919.06" width="18.93" height="9.78" fill="#3240ac"/>
<rect x="409.81" y="919.06" width="18.93" height="9.78" fill="#16161c"/>
<rect x="428.14" y="919.06" width="18.33" height="9.78" fill="#22226a"/>
<rect x="281.50" y="928.24" width="18.93" height="9.78" fill="#cdc32d"/>
<rect x="299.83" y="928.24" width="18.93" height="9.78" fill="#405fc6"/>
<rect x="318.16" y="928.24" width="18.93" height="9.78" fill="#f8ec10"/>
<rect x="336.49" y="928.24" width="18.93" height="9.78" fill="#cdc32d"/>
<rect x="354.82" y="928.24" width="18.93" height="9.78" fill="#22226a"/>
<rect x="373.15" y="928.24" width="18.93" height="9.78" fill="#22226a"/>
<rect x="391.48" y="928.24" width="18.93" height="9.78" fill="#22226a"/>
<rect x="409.81" y="928.24" width="18.93" height="9.78" fill="#405fc6"/>
<rect x="428.14" y="928.24" width="18.33" height="9.78" fill="#405fc6"/>
<rect x="281.50" y="937.42" width="18.93" height="9.18" fill="#405fc6"/>
<rect x="299.83" y="937.42" width="18.93" height="9.18" fill="#f8ec10"/>
<rect x="318.16" y="937.42" width="18.93" height="9.18" fill="#f8ec10"/>
<rect x="336.49" y="937.42" width="18.93" height="9.18" fill="#f8ec10"/>
<rect x="354.82" y="937.42" width="18.93" height="9.18" fill="#22226a"/>
<rect x="373.15" y="937.42" width="18.93" height="9.18" fill="#3240ac"/>
<rect x="391.48" y="937.42" width="18.93" height="9.18" fill="#8c8732"/>
<rect x="409.81" y="937.42" width="18.93" height="9.18" fill="#405fc6"/>
<rect x="428.14" y="937.42" width="18.33" height="9.18" fill="#3240ac"/>
<rect x="281.50" y="790.80" width="164.97" height="8.90" fill="#8a8a93"/>
<text x="154.10" y="520.20" font-size="13.20" font-weight="normal" text-anchor="middle" fill="#231f20">SC1</text>
<text x="361.50" y="520.20" font-size="13.20" font-weight="normal" text-anchor="middle" fill="#231f20">SC2</text>
<text x="71.20" y="544.60" font-size="12.70" font-weight="normal" text-anchor="end" fill="#231f20">Static</text>
<text x="71.20" y="559.80" font-size="12.70" font-weight="normal" text-anchor="end" fill="#231f20">Factor</text>
<text x="71.20" y="575.00" font-size="12.70" font-weight="normal" text-anchor="end" fill="#231f20">ID</text>
<text x="85.60" y="544.60" font-size="12.70" font-weight="normal" text-anchor="middle" fill="#231f20">A</text>
<text x="85.60" y="575.00" font-size="12.70" font-weight="normal" text-anchor="middle" fill="#231f20">1</text>
<text x="102.70" y="544.60" font-size="12.70" font-weight="normal" text-anchor="middle" fill="#231f20">B</text>
<text x="102.70" y="575.00" font-size="12.70" font-weight="normal" text-anchor="middle" fill="#231f20">2</text>
<text x="119.60" y="544.60" font-size="12.70" font-weight="normal" text-anchor="middle" fill="#231f20">B</text>
<text x="119.60" y="575.00" font-size="12.70" font-weight="normal" text-anchor="middle" fill="#231f20">3</text>
<text x="136.40" y="544.60" font-size="12.70" font-weight="normal" text-anchor="middle" fill="#231f20">B</text>
<text x="136.40" y="575.00" font-size="12.70" font-weight="normal" text-anchor="middle" fill="#231f20">4</text>
<text x="155.70" y="544.60" font-size="12.70" font-weight="normal" text-anchor="middle" fill="#231f20">A</text>
<text x="155.70" y="575.00" font-size="12.70" font-weight="normal" text-anchor="middle" fill="#231f20">5</text>
<text x="171.80" y="544.60" font-size="12.70" font-weight="normal" text-anchor="middle" fill="#231f20">A</text>
<text x="171.80" y="575.00" font-size="12.70" font-weight="normal" text-anchor="middle" fill="#231f20">6</text>
<text x="188.60" y="544.60" font-size="12.70" font-weight="normal" text-anchor="middle" fill="#231f20">A</text>
<text x="188.60" y="575.00" font-size="12.70" font-weight="normal" text-anchor="middle" fill="#231f20">7</text>
<text x="208.00" y="544.60" font-size="12.70" font-weight="normal" text-anchor="middle" fill="#231f20">A</text>
<text x="208.00" y="575.00" font-size="12.70" font-weight="normal" text-anchor="middle" fill="#231f20">8</text>
<text x="226.20" y="544.60" font-size="12.70" font-weight="normal" text-anchor="middle" fill="#231f20">B</text>
<text x="226.20" y="575.00" font-size="12.70" font-weight="normal" text-anchor="middle" fill="#231f20">9</text>
<text x="290.80" y="544.60" font-size="12.70" font-weight="normal" text-anchor="middle" fill="#231f20">A</text>
<text x="290.80" y="575.00" font-size="12.70" font-weight="normal" text-anchor="middle" fill="#231f20">1</text>
<text x="309.50" y="544.60" font-size="12.70" font-weight="normal" text-anchor="middle" fill="#231f20">A</text>
<text x="309.50" y="575.00" font-size="12.70" font-weight="normal" text-anchor="middle" fill="#231f20">5</text>
<text x="325.90" y="544.60" font-size="12.70" font-weight="normal" text-anchor="middle" fill="#231f20">B</text>
<text x="325.90" y="575.00" font-size="12.70" font-weight="normal" text-anchor="middle" fill="#231f20">2</text>
<text x="343.00" y="544.60" font-size="12.70" font-weight="normal" text-anchor="middle" fill="#231f20">B</text>
<text x="343.00" y="575.00" font-size="12.70" font-weight="normal" text-anchor="middle" fill="#231f20">4</text>
<text x="367.60" y="544.60" font-size="12.70" font-weight="normal" text-anchor="middle" fill="#231f20">A</text>
<text x="367.60" y="575.00" font-size="12.70" font-weight="normal" text-anchor="middle" fill="#231f20">8</text>
<text x="383.60" y="544.60" font-size="12.70" font-weight="normal" text-anchor="middle" fill="#231f20">A</text>
<text x="383.60" y="575.00" font-size="12.70" font-weight="normal" text-anchor="middle" fill="#231f20">7</text>
<text x="400.40" y="544.60" font-size="12.70" font-weight="normal" text-anchor="middle" fill="#231f20">B</text>
<text x="400.40" y="575.00" font-size="12.70" font-weight="normal" text-anchor="middle" fill="#231f20">3</text>
<text x="418.30" y="544.60" font-size="12.70" font-weight="normal" text-anchor="middle" fill="#231f20">A</text>
<text x="418.30" y="575.00" font-size="12.70" font-weight="normal" text-anchor="middle" fill="#231f20">6</text>
<text x="436.20" y="544.60" font-size="12.70" font-weight="normal" text-anchor="middle" fill="#231f20">B</text>
<text x="436.20" y="575.00" font-size="12.70" font-weight="normal" text-anchor="middle" fill="#231f20">9</text>
<rect x="180.10" y="526.00" width="2.40" height="59.00" fill="#c4106f"/>
<rect x="353.70" y="526.00" width="2.40" height="58.00" fill="#c4106f"/>
<path d="M238 762.7 H265.5 L259.7 754.5 L280.4 766.3 L259.7 777.9 L265.5 769.9 H238 Z" fill="#231f20"/>
<text x="62.50" y="829.30" font-size="16.80" font-weight="bold" text-anchor="start" fill="#231f20" transform="rotate(-90 62.50 829.30)">38 subnetworks</text>
<text x="463.50" y="750.60" font-size="16.80" font-weight="bold" text-anchor="start" fill="#231f20" transform="rotate(-90 463.50 750.60)">pro-onconet</text>
<text x="463.50" y="926.60" font-size="16.80" font-weight="bold" text-anchor="start" fill="#231f20" transform="rotate(-90 463.50 926.60)">anti-onconet</text>
<text x="156.90" y="968.00" font-size="14.10" font-weight="normal" text-anchor="start" fill="#231f20">activity level at a given time point</text>
<rect x="190.40" y="974.20" width="138.10" height="11.60" fill="url(#gB)"/>
<text x="179.30" y="999.20" font-size="14.10" font-weight="normal" text-anchor="start" fill="#231f20">low</text>
<text x="320.30" y="999.20" font-size="14.10" font-weight="normal" text-anchor="start" fill="#231f20">high</text>
</svg>
</body></html>
